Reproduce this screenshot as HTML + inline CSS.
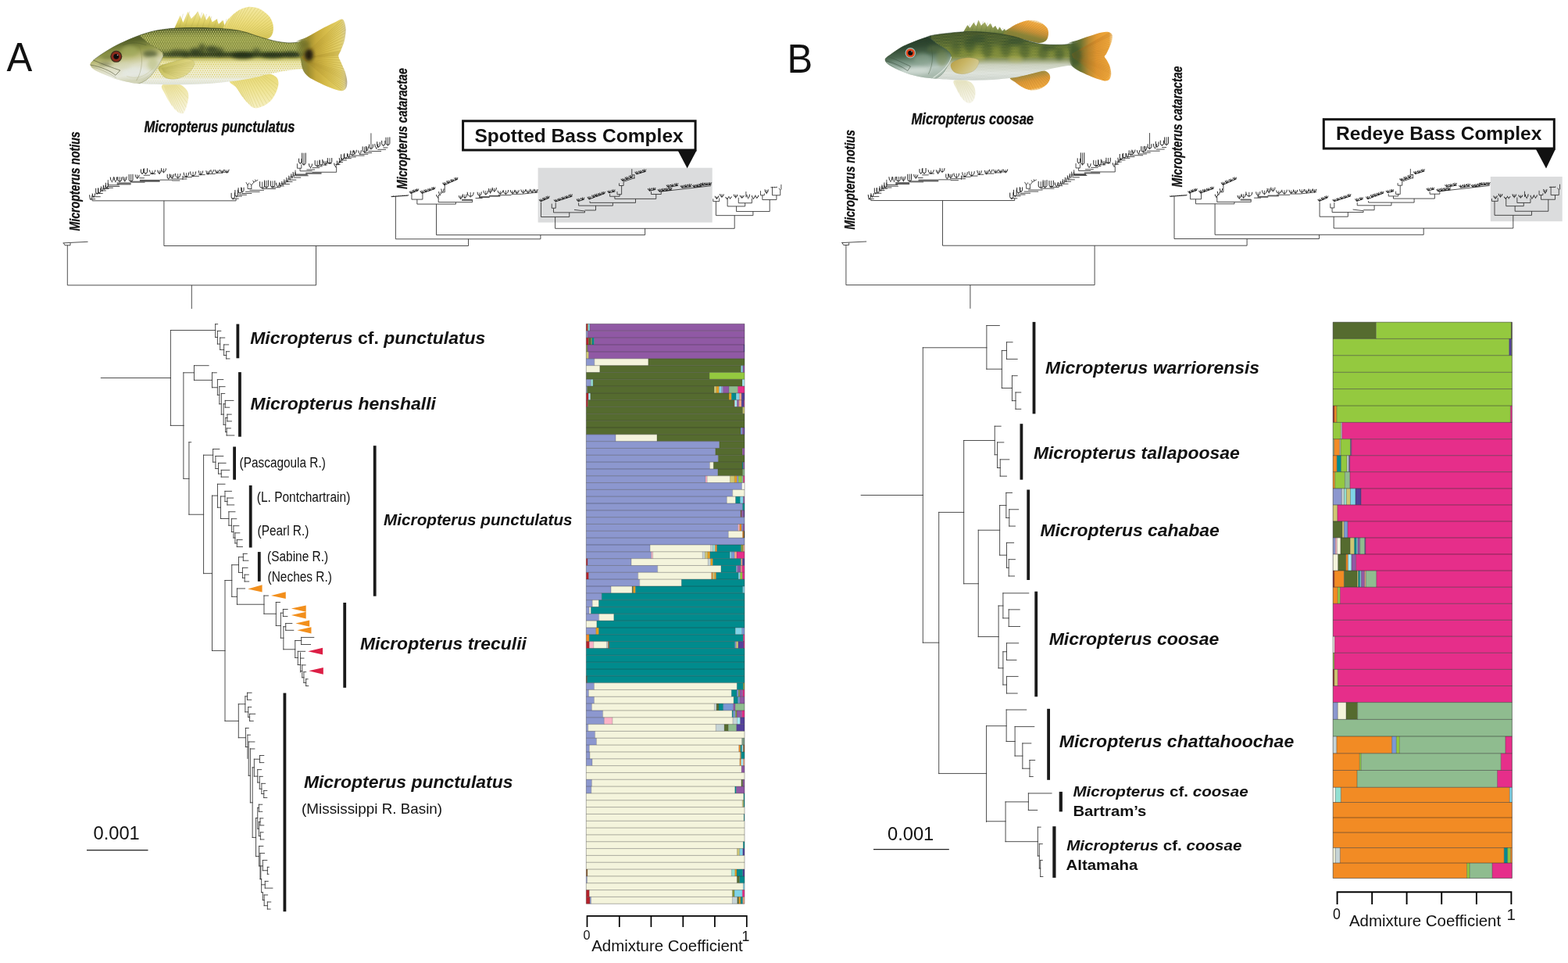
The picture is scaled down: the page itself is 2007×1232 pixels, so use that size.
<!DOCTYPE html>
<html lang="en"><head><meta charset="utf-8"><title>Micropterus phylogeny and admixture</title>
<style>
html,body{margin:0;padding:0;background:#fff;overflow:hidden;}
body{width:2007px;height:1232px;overflow:hidden;}
svg{display:block;font-family:"Liberation Sans",sans-serif;}
</style></head><body>
<svg width="2007" height="1232" viewBox="0 0 2007 1232">
<rect width="2007" height="1232" fill="#fff"/>
<g transform="translate(105 0) scale(0.17439)">
<defs>
<linearGradient id="fabg" x1="0" y1="0" x2="0" y2="1"><stop offset="0" stop-color="#2f3d1a"/><stop offset="0.06" stop-color="#4c5a22"/><stop offset="0.18" stop-color="#707c34"/><stop offset="0.33" stop-color="#808a3c"/><stop offset="0.42" stop-color="#687432"/><stop offset="0.475" stop-color="#3a4820"/><stop offset="0.53" stop-color="#a9ab5e"/><stop offset="0.6" stop-color="#ebe7b4"/><stop offset="0.75" stop-color="#f3f1df"/><stop offset="0.9" stop-color="#eef0ea"/><stop offset="1" stop-color="#dde2de"/></linearGradient>
<linearGradient id="fahd" x1="0" y1="0" x2="0.25" y2="1"><stop offset="0" stop-color="#3a4520"/><stop offset="0.25" stop-color="#5a652c"/><stop offset="0.42" stop-color="#8f9648"/><stop offset="0.55" stop-color="#bdbd7c"/><stop offset="0.7" stop-color="#dcdcc0"/><stop offset="0.88" stop-color="#e6e8dc"/><stop offset="1" stop-color="#d2d4b8"/></linearGradient>
<linearGradient id="fafin1" x1="0" y1="0" x2="0" y2="1"><stop offset="0" stop-color="#f0e7a2"/><stop offset="0.6" stop-color="#dfd165"/><stop offset="1" stop-color="#b9b048"/></linearGradient>
<linearGradient id="fafin2" x1="0" y1="0" x2="0" y2="1"><stop offset="0" stop-color="#f3e9a2"/><stop offset="0.5" stop-color="#ecdc7a"/><stop offset="1" stop-color="#d9c95c"/></linearGradient>
<linearGradient id="faanal" x1="0" y1="0" x2="0" y2="1"><stop offset="0" stop-color="#e6d873"/><stop offset="0.5" stop-color="#f0e596"/><stop offset="1" stop-color="#f6f0c4"/></linearGradient>
<linearGradient id="fatail" x1="0" y1="0" x2="1" y2="0"><stop offset="0" stop-color="#6f7a30" stop-opacity="0"/><stop offset="0.14" stop-color="#7a7a2e" stop-opacity="0.85"/><stop offset="0.26" stop-color="#9c8c2e"/><stop offset="0.4" stop-color="#c4a83a"/><stop offset="0.6" stop-color="#d6bc4a"/><stop offset="0.85" stop-color="#e2cf68"/><stop offset="0.95" stop-color="#dccf8a"/><stop offset="1" stop-color="#b0a898"/></linearGradient>
<linearGradient id="fapelv" x1="0" y1="0" x2="0" y2="1"><stop offset="0" stop-color="#ece29a"/><stop offset="0.5" stop-color="#f3edc0"/><stop offset="1" stop-color="#f8f6e6"/></linearGradient>
<linearGradient id="fapect" x1="0" y1="0" x2="1" y2="0.6"><stop offset="0" stop-color="#9a9a3e"/><stop offset="0.3" stop-color="#c9c262"/><stop offset="0.7" stop-color="#ddd480"/><stop offset="1" stop-color="#e6df98"/></linearGradient>
<pattern id="fasc0" width="17" height="30" patternUnits="userSpaceOnUse">
<ellipse cx="4.25" cy="7.5" rx="5.4" ry="6.0" fill="#e2de88"/>
<ellipse cx="12.75" cy="22.5" rx="5.4" ry="6.0" fill="#e2de88"/>
</pattern>
<pattern id="fasc1" width="17" height="30" patternUnits="userSpaceOnUse">
<ellipse cx="4.25" cy="7.5" rx="4.6" ry="5.4" fill="#d6c84a"/>
<ellipse cx="12.75" cy="22.5" rx="4.6" ry="5.4" fill="#d6c84a"/>
</pattern>
<pattern id="fasc2" width="17" height="30" patternUnits="userSpaceOnUse">
<ellipse cx="4.25" cy="7.5" rx="4.2" ry="4.6" fill="#e0d98c"/>
<ellipse cx="12.75" cy="22.5" rx="4.2" ry="4.6" fill="#e0d98c"/>
</pattern>
<clipPath id="facl"><path d="M60 470C62.5 457 80 445.83 100 430C120 414.17 150 393.33 180 375C210 356.67 243.33 337.83 280 320C316.67 302.17 360 283 400 268C440 253 478.33 239.67 520 230C561.67 220.33 603.33 214.33 650 210C696.67 205.67 750 204.67 800 204C850 203.33 900 204 950 206C1000 208 1058.33 211 1100 216C1141.67 221 1166.67 227 1200 236C1233.33 245 1266.67 259.67 1300 270C1333.33 280.33 1366.67 290.67 1400 298C1433.33 305.33 1470 311.67 1500 314C1530 316.33 1555 314.33 1580 312C1605 309.67 1630 285.33 1650 300C1670 314.67 1696.67 364.17 1700 400C1703.33 435.83 1680 497.5 1670 515C1660 532.5 1660 505.5 1640 505C1620 504.5 1581.67 508.33 1550 512C1518.33 515.67 1483.33 521.17 1450 527C1416.67 532.83 1383.33 539.5 1350 547C1316.67 554.5 1291.67 563.67 1250 572C1208.33 580.33 1150 590.33 1100 597C1050 603.67 1000 608.33 950 612C900 615.67 850 617.5 800 619C750 620.5 700 621.17 650 621C600 620.83 541.67 619.5 500 618C458.33 616.5 428.33 615 400 612C371.67 609 353.83 605 330 600C306.17 595 278.83 588.67 257 582C235.17 575.33 218.17 567.5 199 560C179.83 552.5 161 545.67 142 537C123 528.33 98.67 519.17 85 508C71.33 496.83 57.5 483 60 470Z"/></clipPath>
<filter id="fab1" x="-30%" y="-60%" width="160%" height="220%"><feGaussianBlur stdDeviation="16"/></filter>
<filter id="fab2" x="-40%" y="-40%" width="180%" height="180%"><feGaussianBlur stdDeviation="12"/></filter>
<filter id="fab3" x="-5%" y="-5%" width="110%" height="110%"><feGaussianBlur stdDeviation="2.4"/></filter>
</defs>
<g filter="url(#fab3)">
<path d="M676 212L720 113L742 165L777 84L802 138L852 84L872 138L892 94L912 148L936 113L956 162L990 139L1002 177L1036 149L1046 187L1076 133L1090 215Z" fill="url(#fafin1)"/>
<path d="M1040 215C1026.67 201.67 1058.33 168.33 1070 150C1081.67 131.67 1095 118.33 1110 105C1125 91.67 1140.83 79.17 1160 70C1179.17 60.83 1203 51.67 1225 50C1247 48.33 1272.5 53.33 1292 60C1311.5 66.67 1327 78.33 1342 90C1357 101.67 1372 114.67 1382 130C1392 145.33 1398.67 165 1402 182C1405.33 199 1405.33 217 1402 232C1398.67 247 1394 262 1382 272C1370 282 1352 293.67 1330 292C1308 290.33 1280 272.33 1250 262C1220 251.67 1185 237.83 1150 230C1115 222.17 1053.33 228.33 1040 215Z" fill="url(#fafin2)"/>
<path d="M1085 595C1073.67 606.17 1117.5 624.17 1132 642C1146.5 659.83 1158.67 683.67 1172 702C1185.33 720.33 1197 737 1212 752C1227 767 1243.67 787 1262 792C1280.33 797 1302 790.33 1322 782C1342 773.67 1365.33 758.67 1382 742C1398.67 725.33 1412 703.67 1422 682C1432 660.33 1442 632 1442 612C1442 592 1437.33 574 1422 562C1406.67 550 1387 537.83 1350 540C1313 542.17 1244.17 565.83 1200 575C1155.83 584.17 1096.33 583.83 1085 595Z" fill="url(#faanal)"/>
<path d="M588 625C573 637.83 599.67 669.17 610 692C620.33 714.83 634.67 740.33 650 762C665.33 783.67 686.67 810.33 702 822C717.33 833.67 731.17 838.67 742 832C752.83 825.33 760.33 803.67 767 782C773.67 760.33 782.83 723.67 782 702C781.17 680.33 775.67 666.5 762 652C748.33 637.5 729 619.5 700 615C671 610.5 603 612.17 588 625Z" fill="url(#fapelv)"/>
<path d="M1056.36 216.59L1119.09 98.64M1069.09 219.77L1137.27 85.91M1081.82 222.95L1155.45 73.18M1094.55 226.14L1177.73 64.55M1107.27 229.32L1201.36 57.27M1120 232.5L1225 50M1132.73 235.68L1249.36 53.64M1145.45 238.86L1273.73 57.27M1158.18 242.05L1296.55 62.73M1170.91 245.23L1314.73 73.64M1183.64 248.41L1332.91 84.55M1196.36 251.59L1349.27 97.27M1209.09 254.77L1363.82 111.82M1221.82 257.95L1378.36 126.36M1234.55 261.14L1387.45 144.18M1247.27 264.32L1394.73 163.09M1260 267.5L1402 182M1272.73 270.68L1402 200.18M1285.45 273.86L1402 218.36M1298.18 277.05L1400.18 235.64M1310.91 280.23L1392.91 250.18M1323.64 283.41L1385.64 264.73" stroke="#b5a338" stroke-width="3" stroke-opacity="0.55" fill="none"/>
<path d="M1107.5 593.53L1179.5 711.38M1122.5 590.59L1194.5 730.12M1137.5 587.66L1209.5 748.88M1152.5 584.72L1227.62 764.5M1167.5 581.78L1246.38 779.5M1182.5 578.84L1265.75 791.38M1197.5 575.91L1288.25 787.62M1212.5 572.97L1310.75 783.88M1227.5 570.03L1333.25 774.5M1242.5 567.09L1355.75 759.5M1257.5 564.16L1378.25 744.5M1272.5 561.22L1394.5 723.25M1287.5 558.28L1409.5 700.75M1302.5 555.34L1423.25 677.62M1317.5 552.41L1430.75 651.38M1332.5 549.47L1438.25 625.12" stroke="#bfae44" stroke-width="3" stroke-opacity="0.5" fill="none"/>
<path d="M605 629.44L661.56 775.33M615 628.33L684.67 802M625 627.22L706.44 823.11M635 626.11L724.22 827.56M645 625L742 832M655 623.89L753.11 809.78M665 622.78L764.22 787.56M675 621.67L772 755.33M685 620.56L778.67 719.78" stroke="#c9bb5c" stroke-width="3" stroke-opacity="0.5" fill="none"/>
<path d="M711.11 212L742.17 101.72M753.33 212L789.5 84M795.56 212L847.83 84M837.78 212L880.89 91.22M880 212L914 103.5M922.22 212L951 120.22M964.44 212L992.56 139.56M1006.67 212L1028.33 147.33M1048.89 212L1060.44 139.22" stroke="#a89a3c" stroke-width="3" stroke-opacity="0.5" fill="none"/>
<path d="M60 470C62.5 457 80 445.83 100 430C120 414.17 150 393.33 180 375C210 356.67 243.33 337.83 280 320C316.67 302.17 360 283 400 268C440 253 478.33 239.67 520 230C561.67 220.33 603.33 214.33 650 210C696.67 205.67 750 204.67 800 204C850 203.33 900 204 950 206C1000 208 1058.33 211 1100 216C1141.67 221 1166.67 227 1200 236C1233.33 245 1266.67 259.67 1300 270C1333.33 280.33 1366.67 290.67 1400 298C1433.33 305.33 1470 311.67 1500 314C1530 316.33 1555 314.33 1580 312C1605 309.67 1630 285.33 1650 300C1670 314.67 1696.67 364.17 1700 400C1703.33 435.83 1680 497.5 1670 515C1660 532.5 1660 505.5 1640 505C1620 504.5 1581.67 508.33 1550 512C1518.33 515.67 1483.33 521.17 1450 527C1416.67 532.83 1383.33 539.5 1350 547C1316.67 554.5 1291.67 563.67 1250 572C1208.33 580.33 1150 590.33 1100 597C1050 603.67 1000 608.33 950 612C900 615.67 850 617.5 800 619C750 620.5 700 621.17 650 621C600 620.83 541.67 619.5 500 618C458.33 616.5 428.33 615 400 612C371.67 609 353.83 605 330 600C306.17 595 278.83 588.67 257 582C235.17 575.33 218.17 567.5 199 560C179.83 552.5 161 545.67 142 537C123 528.33 98.67 519.17 85 508C71.33 496.83 57.5 483 60 470Z" fill="url(#fabg)"/>
<g clip-path="url(#facl)">
<ellipse cx="1000" cy="280" rx="600" ry="40" fill="#8f9a40" opacity="0.5" filter="url(#fab1)"/>
<rect x="430" y="200" width="1260" height="215" fill="url(#fasc0)" opacity="0.78"/>
<rect x="430" y="415" width="1260" height="160" fill="url(#fasc1)" opacity="0.85"/>
<rect x="430" y="575" width="1260" height="60" fill="url(#fasc2)" opacity="0.45"/>
<ellipse cx="1130" cy="402" rx="520" ry="14" fill="#1f2a16" opacity="0.8" filter="url(#fab2)"/><ellipse cx="880" cy="360" rx="26" ry="40" fill="#2a381c" opacity="0.6" filter="url(#fab2)"/><ellipse cx="1010" cy="380" rx="30" ry="30" fill="#2a381c" opacity="0.6" filter="url(#fab2)"/><ellipse cx="1280" cy="380" rx="30" ry="26" fill="#2a381c" opacity="0.5" filter="url(#fab2)"/><ellipse cx="760" cy="395" rx="30" ry="26" fill="#2a381c" opacity="0.55" filter="url(#fab2)"/><ellipse cx="620" cy="400" rx="60" ry="16" fill="#2f3d20" opacity="0.5" filter="url(#fab2)"/><ellipse cx="830" cy="380" rx="42" ry="26" fill="#26341c" opacity="0.8" filter="url(#fab2)"/><ellipse cx="950" cy="365" rx="48" ry="26" fill="#26341c" opacity="0.75" filter="url(#fab2)"/><ellipse cx="1180" cy="408" rx="80" ry="24" fill="#1f2a18" opacity="0.8" filter="url(#fab2)"/><ellipse cx="1400" cy="408" rx="80" ry="20" fill="#1f2a18" opacity="0.7" filter="url(#fab2)"/><ellipse cx="700" cy="385" rx="55" ry="20" fill="#2d3b1f" opacity="0.65" filter="url(#fab2)"/><ellipse cx="1530" cy="400" rx="70" ry="18" fill="#1f2a18" opacity="0.7" filter="url(#fab2)"/>
</g>
<path d="M70 462C75 456.67 81.67 444.5 100 430C118.33 415.5 150 393.33 180 375C210 356.67 243.33 337.83 280 320C316.67 302.17 360 283 400 268C440 253 478.33 239.67 520 230C561.67 220.33 603.33 214.33 650 210C696.67 205.67 750 204.67 800 204C850 203.33 900 204 950 206C1000 208 1058.33 211 1100 216C1141.67 221 1166.67 227 1200 236C1233.33 245 1266.67 259.67 1300 270C1333.33 280.33 1366.67 290.67 1400 298C1433.33 305.33 1470 311.67 1500 314C1530 316.33 1566.67 312.33 1580 312" fill="none" stroke="#2c3a18" stroke-width="6" stroke-opacity="0.55" stroke-linecap="round"/>
<path d="M1560 318C1568.33 293.33 1618.33 289 1650 272C1681.67 255 1716.67 233.67 1750 216C1783.33 198.33 1824.17 178.67 1850 166C1875.83 153.33 1892.33 140.67 1905 140C1917.67 139.33 1920.83 148.67 1926 162C1931.17 175.33 1936 197 1936 220C1936 243 1932 275 1926 300C1920 325 1907.33 351.67 1900 370C1892.67 388.33 1881.67 395 1882 410C1882.33 425 1893.67 440 1902 460C1910.33 480 1924.67 506.67 1932 530C1939.33 553.33 1945.33 580 1946 600C1946.67 620 1943.67 639 1936 650C1928.33 661 1919.33 667.33 1900 666C1880.67 664.67 1848.33 652.67 1820 642C1791.67 631.33 1756.67 615.33 1730 602C1703.33 588.67 1678.33 577.33 1660 562C1641.67 546.67 1630 533.67 1620 510C1610 486.33 1610 452 1600 420C1590 388 1551.67 342.67 1560 318Z" fill="url(#fatail)"/>
<path d="M1610.29 420.29L1907.74 147.06M1610.88 420.88L1913.21 161.18M1611.47 421.47L1918.68 175.29M1612.06 422.06L1924.15 189.41M1612.65 422.65L1929.62 203.53M1613.24 423.24L1935.09 217.65M1613.82 423.82L1930.71 242.06M1614.41 424.41L1924.35 268.53M1615 425L1918 295M1615.59 425.59L1911.65 321.47M1616.18 426.18L1905.29 347.94M1616.76 426.76L1899.47 371.18M1617.35 427.35L1896.29 378.24M1617.94 427.94L1893.12 385.29M1618.53 428.53L1889.94 392.35M1619.12 429.12L1886.76 399.41M1619.71 429.71L1883.59 406.47M1620.29 430.29L1886.41 420.59M1620.88 430.88L1895.24 441.76M1621.47 431.47L1904.06 462.94M1622.06 432.06L1912.88 484.12M1622.65 432.65L1921.71 505.29M1623.24 433.24L1930.53 526.47M1623.82 433.82L1934.06 540.29M1624.41 434.41L1936.53 552.65M1625 435L1939 565M1625.59 435.59L1941.47 577.35M1626.18 436.18L1943.94 589.71M1626.76 436.76L1944.65 601.94M1627.35 437.35L1936.53 613.59M1627.94 437.94L1928.41 625.24M1628.53 438.53L1920.29 636.88M1629.12 439.12L1912.18 648.53M1629.71 439.71L1904.06 660.18" stroke="#a08526" stroke-width="3" stroke-opacity="0.5" fill="none"/>
<ellipse cx="1665" cy="402" rx="32" ry="44" fill="#1a1810" opacity="0.92" filter="url(#fab2)"/><ellipse cx="1640" cy="330" rx="30" ry="30" fill="#6a6a28" opacity="0.6" filter="url(#fab2)"/>
<g clip-path="url(#facl)">
<path d="M40 470C44.17 454.67 76.67 437.5 100 420C123.33 402.5 150 383.33 180 365C210 346.67 243.33 327.83 280 310C316.67 292.17 364.67 256.17 400 258C435.33 259.83 463.83 302.83 492 321C520.17 339.17 552 352.33 569 367C586 381.67 598.33 385.83 594 409C589.67 432.17 564.33 475.83 543 506C521.67 536.17 496 570.67 466 590C436 609.33 397.83 621.67 363 622C328.17 622.33 284.33 600.67 257 592C229.67 583.33 218.17 577.5 199 570C179.83 562.5 162.67 556.67 142 547C121.33 537.33 92 524.83 75 512C58 499.17 35.83 485.33 40 470Z" fill="url(#fahd)" stroke="#6b7040" stroke-width="5" stroke-opacity="0.5"/>
<ellipse cx="350" cy="375" rx="60" ry="40" fill="#a3ab5e" opacity="0.75" filter="url(#fab2)"/><ellipse cx="500" cy="395" rx="55" ry="24" fill="#3b4a26" opacity="0.65" filter="url(#fab2)"/><ellipse cx="170" cy="468" rx="50" ry="12" fill="#4a4f30" opacity="0.5" filter="url(#fab2)"/><ellipse cx="380" cy="530" rx="90" ry="40" fill="#e4e8e2" opacity="0.8" filter="url(#fab2)"/><ellipse cx="300" cy="480" rx="60" ry="26" fill="#d4d6b4" opacity="0.6" filter="url(#fab2)"/><ellipse cx="520" cy="470" rx="40" ry="50" fill="#b9bf80" opacity="0.6" filter="url(#fab2)"/><ellipse cx="200" cy="420" rx="60" ry="18" fill="#6a7436" opacity="0.6" filter="url(#fab2)"/>
</g>
<path d="M564 491C574.33 477.33 615.17 469.5 646 460C676.83 450.5 720.83 436.5 749 434C777.17 431.5 803 437.17 815 445C827 452.83 827.83 464.83 821 481C814.17 497.17 794.67 525.83 774 542C753.33 558.17 722.67 572.83 697 578C671.33 583.17 638.83 579 620 573C601.17 567 593.33 555.67 584 542C574.67 528.33 553.67 504.67 564 491Z" fill="url(#fapect)" stroke="#8a8a3c" stroke-width="3" stroke-opacity="0.45"/>
<path d="M581 501.5L815.9 450.4M583 504.5L817.7 461.2M585 507.5L819.5 472M587 510.5L818.65 484.05M589 513.5L804.55 502.35M591 516.5L790.45 520.65M593 519.5L776.35 538.95M595 522.5L754.75 551M597 525.5L731.65 561.8M599 528.5L708.55 572.6" stroke="#8f8a38" stroke-width="2.5" stroke-opacity="0.4" fill="none"/>
<path d="M420 340C450 410 445 520 400 590" fill="none" stroke="#7a7f48" stroke-width="4" stroke-opacity="0.45" stroke-linecap="round"/>
<path d="M62 476C140 490 210 520 246 552L280 516C230 500 150 470 85 442" fill="none" stroke="#55583a" stroke-width="5" stroke-opacity="0.75" stroke-linecap="round"/>
<path d="M70 488C130 505 200 535 250 570" fill="none" stroke="#8a8c6a" stroke-width="4" stroke-opacity="0.5" stroke-linecap="round"/>
<path d="M300 330C380 300 430 320 470 330" fill="none" stroke="#4a5628" stroke-width="5" stroke-opacity="0.5" stroke-linecap="round"/>
<path d="M594 409C570 470 520 540 440 595" fill="none" stroke="#c9ccb0" stroke-width="6" stroke-opacity="0.7" stroke-linecap="round"/>
<path d="M330 560C400 585 470 560 520 500" fill="none" stroke="#b9b98a" stroke-width="4" stroke-opacity="0.5" stroke-linecap="round"/>
<circle cx="251" cy="415" r="43" fill="#3a3020"/>
<circle cx="251" cy="415" r="36" fill="#8a2c1c"/>
<circle cx="251" cy="415" r="19.8" fill="#0d0b0a"/>
<circle cx="261.08" cy="404.2" r="4.68" fill="#fff" opacity="0.75"/>
</g>
</g>
<g transform="translate(1120 10) scale(0.15944)">
<defs>
<linearGradient id="fbbg" x1="0" y1="0" x2="0" y2="1"><stop offset="0" stop-color="#223822"/><stop offset="0.15" stop-color="#324b2b"/><stop offset="0.35" stop-color="#4c6330"/><stop offset="0.5" stop-color="#65773a"/><stop offset="0.58" stop-color="#939e68"/><stop offset="0.68" stop-color="#d3d8c6"/><stop offset="0.85" stop-color="#e9ede8"/><stop offset="1" stop-color="#d5dbd6"/></linearGradient>
<linearGradient id="fbhd" x1="0" y1="0" x2="0.2" y2="1"><stop offset="0" stop-color="#1f3324"/><stop offset="0.3" stop-color="#2f4730"/><stop offset="0.5" stop-color="#4c6850"/><stop offset="0.65" stop-color="#7d9886"/><stop offset="0.82" stop-color="#b9c9c0"/><stop offset="1" stop-color="#a9baae"/></linearGradient>
<linearGradient id="fbfin1" x1="0" y1="0" x2="0" y2="1"><stop offset="0" stop-color="#b4b872"/><stop offset="0.5" stop-color="#8f9a52"/><stop offset="1" stop-color="#5f7538"/></linearGradient>
<linearGradient id="fbfin2" x1="0.1" y1="1" x2="0.6" y2="0"><stop offset="0" stop-color="#6f7a38"/><stop offset="0.42" stop-color="#85863a"/><stop offset="0.6" stop-color="#c2923a"/><stop offset="0.8" stop-color="#e8a23a"/><stop offset="0.95" stop-color="#f0ae48"/><stop offset="1" stop-color="#f6deb0"/></linearGradient>
<linearGradient id="fbanal" x1="0.2" y1="0" x2="0.6" y2="1"><stop offset="0" stop-color="#8a8a44"/><stop offset="0.3" stop-color="#a98f40"/><stop offset="0.55" stop-color="#dc9a38"/><stop offset="0.9" stop-color="#eea83e"/><stop offset="1" stop-color="#f6deb0"/></linearGradient>
<linearGradient id="fbtail" x1="0" y1="0" x2="1" y2="0"><stop offset="0" stop-color="#465e2e" stop-opacity="0"/><stop offset="0.14" stop-color="#4a6030" stop-opacity="0.9"/><stop offset="0.3" stop-color="#6a7230"/><stop offset="0.48" stop-color="#b98a30"/><stop offset="0.65" stop-color="#e39a32"/><stop offset="0.92" stop-color="#efa83c"/><stop offset="1" stop-color="#f6dcae"/></linearGradient>
<linearGradient id="fbpelv" x1="0" y1="0" x2="0" y2="1"><stop offset="0" stop-color="#e9e6c4"/><stop offset="1" stop-color="#f7f6ec"/></linearGradient>
<linearGradient id="fbpect" x1="0" y1="0" x2="1" y2="0.6"><stop offset="0" stop-color="#b39a40"/><stop offset="0.5" stop-color="#c9b666"/><stop offset="1" stop-color="#d6d0a0"/></linearGradient>
<pattern id="fbsc0" width="13" height="24" patternUnits="userSpaceOnUse">
<ellipse cx="3.25" cy="6" rx="4.2" ry="4.8" fill="#d2cc50"/>
<ellipse cx="9.75" cy="18" rx="4.2" ry="4.8" fill="#d2cc50"/>
</pattern>
<pattern id="fbsc1" width="13" height="24" patternUnits="userSpaceOnUse">
<ellipse cx="3.25" cy="6" rx="3.6" ry="4.2" fill="#9aa38e"/>
<ellipse cx="9.75" cy="18" rx="3.6" ry="4.2" fill="#9aa38e"/>
</pattern>
<clipPath id="fbcl"><path d="M80 420C78.5 412 82.67 408.33 90 401C97.33 393.67 111 385.33 124 376C137 366.67 152.33 355.5 168 345C183.67 334.5 199.17 323 218 313C236.83 303 260.17 293.83 281 285C301.83 276.17 322.17 267.83 343 260C363.83 252.17 385 244.83 406 238C427 231.17 428.33 225.83 469 219C509.67 212.17 594.83 201.5 650 197C705.17 192.5 750 191.17 800 192C850 192.83 900 196.17 950 202C1000 207.83 1058.33 217.83 1100 227C1141.67 236.17 1166.67 247.33 1200 257C1233.33 266.67 1266.67 278.5 1300 285C1333.33 291.5 1366.67 294.17 1400 296C1433.33 297.83 1470 297 1500 296C1530 295 1556.67 291 1580 290C1603.33 289 1625 273.33 1640 290C1655 306.67 1671.67 358.33 1670 390C1668.33 421.67 1645 467.5 1630 480C1615 492.5 1601.67 466.33 1580 465C1558.33 463.67 1530 467.5 1500 472C1470 476.5 1433.33 484.5 1400 492C1366.67 499.5 1333.33 508.67 1300 517C1266.67 525.33 1233.33 534.5 1200 542C1166.67 549.5 1141.67 556.17 1100 562C1058.33 567.83 1000 573.67 950 577C900 580.33 850 581.67 800 582C750 582.33 699.67 580.83 650 579C600.33 577.17 537.5 573.33 502 571C466.5 568.67 458.17 567.5 437 565C415.83 562.5 395.83 559.67 375 556C354.17 552.33 332.83 548.33 312 543C291.17 537.67 270.83 531.33 250 524C229.17 516.67 205.83 507.33 187 499C168.17 490.67 151.67 482.33 137 474C122.33 465.67 108.5 458 99 449C89.5 440 81.5 428 80 420Z"/></clipPath>
<filter id="fbb1" x="-30%" y="-60%" width="160%" height="220%"><feGaussianBlur stdDeviation="16"/></filter>
<filter id="fbb2" x="-40%" y="-40%" width="180%" height="180%"><feGaussianBlur stdDeviation="12"/></filter>
<filter id="fbb3" x="-5%" y="-5%" width="110%" height="110%"><feGaussianBlur stdDeviation="2.4"/></filter>
</defs>
<g filter="url(#fbb3)">
<path d="M705 200L742 138L762 162L792 118L812 147L832 98L852 142L882 114L902 152L926 124L946 162L966 144L986 177L1002 154L1022 187L1042 168L1060 220Z" fill="url(#fbfin1)"/>
<path d="M1030 215C1013.33 197.5 1078.33 165.83 1100 150C1121.67 134.17 1138.33 128.33 1160 120C1181.67 111.67 1206.67 102.5 1230 100C1253.33 97.5 1280 100 1300 105C1320 110 1335.67 119.17 1350 130C1364.33 140.83 1379.17 155 1386 170C1392.83 185 1393.5 204.17 1391 220C1388.5 235.83 1384.33 254.67 1371 265C1357.67 275.33 1339.5 283.67 1311 282C1282.5 280.33 1246.83 266.17 1200 255C1153.17 243.83 1046.67 232.5 1030 215Z" fill="url(#fbfin2)"/>
<path d="M1085 560C1073.67 570.33 1114.17 588.33 1132 602C1149.83 615.67 1172 632 1192 642C1212 652 1230.33 660.33 1252 662C1273.67 663.67 1300.33 660.33 1322 652C1343.67 643.67 1368 627 1382 612C1396 597 1404.5 577 1406 562C1407.5 547 1402 531.5 1391 522C1380 512.5 1371.83 502 1340 505C1308.17 508 1242.5 530.83 1200 540C1157.5 549.17 1096.33 549.67 1085 560Z" fill="url(#fbanal)"/>
<path d="M633 585C619.67 597.83 648.5 637.5 660 662C671.5 686.5 686.67 714.67 702 732C717.33 749.33 737 764.33 752 766C767 767.67 783 756 792 742C801 728 806.17 702 806 682C805.83 662 802 638.17 791 622C780 605.83 766.33 591.17 740 585C713.67 578.83 646.33 572.17 633 585Z" fill="url(#fbpelv)"/>
<path d="M1055.91 216.48L1109.55 145.23M1067.73 219.43L1128.64 135.68M1079.55 222.39L1147.73 126.14M1091.36 225.34L1167.95 117.73M1103.18 228.3L1190.23 111.36M1115 231.25L1212.5 105M1126.82 234.2L1234.77 100.34M1138.64 237.16L1257.05 101.93M1150.45 240.11L1279.32 103.52M1162.27 243.07L1301.14 105.57M1174.09 246.02L1317.05 113.52M1185.91 248.98L1332.95 121.48M1197.73 251.93L1348.86 129.43M1209.55 254.89L1360.64 141.82M1221.36 257.84L1372.09 154.55M1233.18 260.8L1383.55 167.27M1245 263.75L1387.25 182.5M1256.82 266.7L1388.84 198.41M1268.64 269.66L1390.43 214.32M1280.45 272.61L1386.91 229.2M1292.27 275.57L1380.55 243.52M1304.09 278.52L1374.18 257.84" stroke="#b06a1c" stroke-width="3" stroke-opacity="0.5" fill="none"/>
<path d="M1107.5 558.38L1141.38 608.25M1122.5 555.12L1160.12 620.75M1137.5 551.88L1178.88 633.25M1152.5 548.62L1197.62 643.88M1167.5 545.38L1216.38 650.12M1182.5 542.12L1235.12 656.38M1197.5 538.88L1254.19 661.69M1212.5 535.62L1276.06 658.56M1227.5 532.38L1297.94 655.44M1242.5 529.12L1319.81 652.31M1257.5 525.88L1338.88 640.75M1272.5 522.62L1357.62 628.25M1287.5 519.38L1376.38 615.75M1302.5 516.12L1387.25 601.06M1317.5 512.88L1394.75 585.44M1332.5 509.62L1402.25 569.81" stroke="#b06a1c" stroke-width="3" stroke-opacity="0.5" fill="none"/>
<path d="M650.31 589.88L670.5 679.5M660.94 589.62L691.5 714.5M671.56 589.38L714.5 740.5M682.19 589.12L739.5 757.5M692.81 588.88L762 760M703.44 588.62L782 748M714.06 588.38L795.5 727M724.69 588.12L802.5 697" stroke="#c9c49a" stroke-width="3" stroke-opacity="0.5" fill="none"/>
<path d="M733.61 205.28L761.44 130.22M770.83 205.83L798.67 114.67M808.06 206.39L829.78 99.11M845.28 206.94L868.11 109.56M882.5 207.5L904 119M919.72 208.06L937.11 129.56M956.94 208.61L968 144.56M994.17 209.17L996 152.33M1031.39 209.72L1026.44 162.56" stroke="#556b38" stroke-width="3" stroke-opacity="0.5" fill="none"/>
<path d="M80 420C78.5 412 82.67 408.33 90 401C97.33 393.67 111 385.33 124 376C137 366.67 152.33 355.5 168 345C183.67 334.5 199.17 323 218 313C236.83 303 260.17 293.83 281 285C301.83 276.17 322.17 267.83 343 260C363.83 252.17 385 244.83 406 238C427 231.17 428.33 225.83 469 219C509.67 212.17 594.83 201.5 650 197C705.17 192.5 750 191.17 800 192C850 192.83 900 196.17 950 202C1000 207.83 1058.33 217.83 1100 227C1141.67 236.17 1166.67 247.33 1200 257C1233.33 266.67 1266.67 278.5 1300 285C1333.33 291.5 1366.67 294.17 1400 296C1433.33 297.83 1470 297 1500 296C1530 295 1556.67 291 1580 290C1603.33 289 1625 273.33 1640 290C1655 306.67 1671.67 358.33 1670 390C1668.33 421.67 1645 467.5 1630 480C1615 492.5 1601.67 466.33 1580 465C1558.33 463.67 1530 467.5 1500 472C1470 476.5 1433.33 484.5 1400 492C1366.67 499.5 1333.33 508.67 1300 517C1266.67 525.33 1233.33 534.5 1200 542C1166.67 549.5 1141.67 556.17 1100 562C1058.33 567.83 1000 573.67 950 577C900 580.33 850 581.67 800 582C750 582.33 699.67 580.83 650 579C600.33 577.17 537.5 573.33 502 571C466.5 568.67 458.17 567.5 437 565C415.83 562.5 395.83 559.67 375 556C354.17 552.33 332.83 548.33 312 543C291.17 537.67 270.83 531.33 250 524C229.17 516.67 205.83 507.33 187 499C168.17 490.67 151.67 482.33 137 474C122.33 465.67 108.5 458 99 449C89.5 440 81.5 428 80 420Z" fill="url(#fbbg)"/>
<g clip-path="url(#fbcl)">
<ellipse cx="1000" cy="350" rx="560" ry="40" fill="#8c9636" opacity="0.3" filter="url(#fbb1)"/><ellipse cx="1000" cy="250" rx="560" ry="40" fill="#2c4428" opacity="0.5" filter="url(#fbb1)"/>
<rect x="450" y="185" width="1200" height="220" fill="url(#fbsc0)" opacity="0.62"/>
<rect x="450" y="405" width="1200" height="190" fill="url(#fbsc1)" opacity="0.5"/>
<ellipse cx="760" cy="300" rx="45" ry="60" fill="#2f4a2c" opacity="0.45" filter="url(#fbb2)"/><ellipse cx="900" cy="340" rx="42" ry="60" fill="#2f4a2c" opacity="0.4" filter="url(#fbb2)"/><ellipse cx="1050" cy="330" rx="42" ry="60" fill="#2f4a2c" opacity="0.4" filter="url(#fbb2)"/><ellipse cx="1200" cy="350" rx="42" ry="55" fill="#2f4a2c" opacity="0.4" filter="url(#fbb2)"/><ellipse cx="1350" cy="360" rx="42" ry="50" fill="#2f4a2c" opacity="0.4" filter="url(#fbb2)"/><ellipse cx="1480" cy="370" rx="38" ry="48" fill="#2f4a2c" opacity="0.45" filter="url(#fbb2)"/><ellipse cx="650" cy="330" rx="40" ry="50" fill="#2f4a2c" opacity="0.35" filter="url(#fbb2)"/><ellipse cx="830" cy="400" rx="50" ry="30" fill="#c9c45a" opacity="0.35" filter="url(#fbb2)"/><ellipse cx="1130" cy="410" rx="60" ry="30" fill="#c9c45a" opacity="0.3" filter="url(#fbb2)"/><ellipse cx="830" cy="250" rx="60" ry="30" fill="#2f4a2e" opacity="0.5" filter="url(#fbb2)"/><ellipse cx="1130" cy="270" rx="70" ry="30" fill="#2f4a2e" opacity="0.5" filter="url(#fbb2)"/><ellipse cx="1400" cy="320" rx="60" ry="24" fill="#2f4a2e" opacity="0.5" filter="url(#fbb2)"/>
</g>
<path d="M84 412C85 410.17 83.33 407 90 401C96.67 395 111 385.33 124 376C137 366.67 152.33 355.5 168 345C183.67 334.5 199.17 323 218 313C236.83 303 260.17 293.83 281 285C301.83 276.17 322.17 267.83 343 260C363.83 252.17 385 244.83 406 238C427 231.17 428.33 225.83 469 219C509.67 212.17 594.83 201.5 650 197C705.17 192.5 750 191.17 800 192C850 192.83 900 196.17 950 202C1000 207.83 1058.33 217.83 1100 227C1141.67 236.17 1166.67 247.33 1200 257C1233.33 266.67 1266.67 278.5 1300 285C1333.33 291.5 1366.67 294.17 1400 296C1433.33 297.83 1473.33 296.67 1500 296C1526.67 295.33 1550 292.67 1560 292" fill="none" stroke="#243a26" stroke-width="6" stroke-opacity="0.55" stroke-linecap="round"/>
<path d="M1540 292C1550 275.67 1590 272.83 1620 262C1650 251.17 1686.67 237.83 1720 227C1753.33 216.17 1793.33 202.17 1820 197C1846.67 191.83 1865.67 191.83 1880 196C1894.33 200.17 1902.67 209.33 1906 222C1909.33 234.67 1904.33 255.33 1900 272C1895.67 288.67 1887.33 305.33 1880 322C1872.67 338.67 1862.33 360.33 1856 372C1849.67 383.67 1841 383.67 1842 392C1843 400.33 1854.67 408.67 1862 422C1869.33 435.33 1880.33 453.67 1886 472C1891.67 490.33 1897 514.67 1896 532C1895 549.33 1889.33 567 1880 576C1870.67 585 1860 588.33 1840 586C1820 583.67 1786.67 571.83 1760 562C1733.33 552.17 1703.33 537.83 1680 527C1656.67 516.17 1638.33 509.83 1620 497C1601.67 484.17 1580 472.83 1570 450C1560 427.17 1565 386.33 1560 360C1555 333.67 1530 308.33 1540 292Z" fill="url(#fbtail)"/>
<path d="M1580.15 370.44L1882.29 198.29M1580.44 371.32L1886.88 202.88M1580.74 372.21L1891.47 207.47M1581.03 373.09L1896.06 212.06M1581.32 373.97L1900.65 216.65M1581.62 374.85L1905.24 221.24M1581.91 375.74L1902.18 236.71M1582.21 376.62L1897.59 254.35M1582.5 377.5L1893 272M1582.79 378.38L1888.41 289.65M1583.09 379.26L1883.82 307.29M1583.38 380.15L1878.88 324.06M1583.68 381.03L1872.18 336.41M1583.97 381.91L1865.47 348.76M1584.26 382.79L1858.76 361.12M1584.56 383.68L1852.06 373.47M1584.85 384.56L1845.35 385.82M1585.15 385.44L1845.88 399.06M1585.44 386.32L1853.65 413.18M1585.74 387.21L1861.41 427.29M1586.03 388.09L1869.18 441.41M1586.32 388.97L1876.94 455.53M1586.62 389.85L1884.71 469.65M1586.91 390.74L1887.47 480.82M1587.21 391.62L1889.24 491.41M1587.5 392.5L1891 502M1587.79 393.38L1892.76 512.59M1588.09 394.26L1894.53 523.18M1588.38 395.15L1894.35 533.59M1588.68 396.03L1884.47 543.12M1588.97 396.91L1874.59 552.65M1589.26 397.79L1864.71 562.18M1589.56 398.68L1854.82 571.71M1589.85 399.56L1844.94 581.24" stroke="#b06a1c" stroke-width="3" stroke-opacity="0.5" fill="none"/>
<ellipse cx="1610" cy="385" rx="45" ry="80" fill="#41582c" opacity="0.7" filter="url(#fbb2)"/>
<g clip-path="url(#fbcl)">
<path d="M60 420C59.17 409.33 79.33 400 90 391C100.67 382 111 375.33 124 366C137 356.67 152.33 345.5 168 335C183.67 324.5 199.17 313 218 303C236.83 293 260.17 283.83 281 275C301.83 266.17 319.83 257.17 343 250C366.17 242.83 393.83 225.33 420 232C446.17 238.67 473.33 272 500 290C526.67 308 561.33 322.5 580 340C598.67 357.5 612 373.33 612 395C612 416.67 593.67 445.83 580 470C566.33 494.17 551.67 521.67 530 540C508.33 558.33 475.83 575.67 450 580C424.17 584.33 398 570.5 375 566C352 561.5 332.83 558.33 312 553C291.17 547.67 270.83 541.33 250 534C229.17 526.67 205.83 517.33 187 509C168.17 500.67 152.33 493 137 484C121.67 475 107.83 465.67 95 455C82.17 444.33 60.83 430.67 60 420Z" fill="url(#fbhd)" stroke="#4a6650" stroke-width="5" stroke-opacity="0.5"/>
<ellipse cx="380" cy="410" rx="70" ry="45" fill="#8fa894" opacity="0.55" filter="url(#fbb2)"/><ellipse cx="330" cy="505" rx="120" ry="26" fill="#d5dfd8" opacity="0.75" filter="url(#fbb2)"/><ellipse cx="190" cy="445" rx="70" ry="16" fill="#7f9a8c" opacity="0.6" filter="url(#fbb2)"/><ellipse cx="540" cy="400" rx="50" ry="70" fill="#7a8a50" opacity="0.5" filter="url(#fbb2)"/><ellipse cx="480" cy="330" rx="60" ry="30" fill="#5a6e3c" opacity="0.5" filter="url(#fbb2)"/>
</g>
<path d="M610 452C618.17 435.33 653.33 419.5 680 411C706.67 402.5 744.83 399.33 770 401C795.17 402.67 822.5 409.33 831 421C839.5 432.67 829.33 456 821 471C812.67 486 801 501 781 511C761 521 726 531 701 531C676 531 646.17 524.17 631 511C615.83 497.83 601.83 468.67 610 452Z" fill="url(#fbpect)" stroke="#9a8a4c" stroke-width="3" stroke-opacity="0.45"/>
<path d="M440 290C470 350 470 450 430 530" fill="none" stroke="#3f5636" stroke-width="5" stroke-opacity="0.5" stroke-linecap="round"/>
<path d="M612 395C600 450 560 500 470 560" fill="none" stroke="#e6ece4" stroke-width="7" stroke-opacity="0.8" stroke-linecap="round"/>
<path d="M86 424C150 440 215 470 262 505L285 470C230 445 160 410 105 392" fill="none" stroke="#3f5444" stroke-width="5" stroke-opacity="0.75" stroke-linecap="round"/>
<path d="M95 440C150 462 210 490 260 520" fill="none" stroke="#c9d6d0" stroke-width="5" stroke-opacity="0.6" stroke-linecap="round"/>
<circle cx="284" cy="362" r="42" fill="#9fc0bc"/>
<circle cx="284" cy="362" r="35" fill="#e2451c"/>
<circle cx="284" cy="362" r="19.25" fill="#0d0b0a"/>
<circle cx="293.8" cy="351.5" r="4.55" fill="#fff" opacity="0.75"/>
</g>
</g>
<rect x="688.6" y="214.7" width="223.1" height="69.9" fill="#dbdcdd"/>
<rect x="1907.8" y="226" width="91.9" height="57.2" fill="#dbdcdd"/>
<rect x="592.6" y="154.8" width="297.5" height="37.2" fill="#fff" stroke="#111" stroke-width="3"/>
<polygon points="867.6,192.5 891.6,192.5 879.6,215.3" fill="#111"/>
<rect x="1694.3" y="152.7" width="295" height="37.3" fill="#fff" stroke="#111" stroke-width="3"/>
<polygon points="1966,191 1990.8,191 1979,215.4" fill="#111"/>
<rect x="302.46" y="414.57" width="3.8" height="43.72" fill="#1a1a1a"/>
<rect x="305.05" y="476.11" width="3.8" height="82.59" fill="#1a1a1a"/>
<rect x="298.2" y="571.5" width="3.8" height="42.2" fill="#1a1a1a"/>
<rect x="318.8" y="621" width="3.8" height="79.5" fill="#1a1a1a"/>
<rect x="329.9" y="706.1" width="3.8" height="37.7" fill="#1a1a1a"/>
<rect x="477.8" y="570.2" width="3.8" height="192.5" fill="#1a1a1a"/>
<rect x="439.3" y="771" width="3.8" height="108.8" fill="#1a1a1a"/>
<rect x="362.5" y="886.6" width="3.8" height="279.6" fill="#1a1a1a"/>
<rect x="1321.6" y="411.9" width="3.8" height="117.5" fill="#1a1a1a"/>
<rect x="1305.5" y="542.2" width="3.8" height="71.5" fill="#1a1a1a"/>
<rect x="1314.3" y="626.5" width="3.8" height="115.5" fill="#1a1a1a"/>
<rect x="1324.3" y="756.7" width="3.8" height="134.6" fill="#1a1a1a"/>
<rect x="1340.2" y="906.8" width="3.8" height="91" fill="#1a1a1a"/>
<rect x="1355.7" y="1012.9" width="4.2" height="25.5" fill="#1a1a1a"/>
<rect x="1347.3" y="1057.2" width="4.2" height="65.7" fill="#1a1a1a"/>
<path d="M111 1087.7H189.5M1118 1086.7H1214.8" stroke="#222" stroke-width="1.3" fill="none"/>
<path d="M750.65 1171.8H956.65M751.5 1171.8V1185.9M792.8 1171.8V1185.9M833.4 1171.8V1185.9M874.3 1171.8V1185.9M914.9 1171.8V1185.9M955.8 1171.8V1185.9" fill="none" stroke="#000" stroke-width="1.7"/>
<path d="M1710.65 1141.2H1935.35M1711.6 1141.2V1156.9M1756.2 1141.2V1156.9M1800.6 1141.2V1156.9M1845.2 1141.2V1156.9M1889.9 1141.2V1156.9M1934.4 1141.2V1156.9" fill="none" stroke="#000" stroke-width="1.9"/>
<polygon points="317.18,753.38 335.55,748.34 335.55,757.4" fill="#f28f1c"/>
<polygon points="346.88,761.93 365.75,757.15 365.75,765.96" fill="#f28f1c"/>
<polygon points="372.79,778.54 391.66,774.51 391.66,782.82" fill="#f28f1c"/>
<polygon points="372.79,787.09 391.66,782.82 391.66,791.62" fill="#f28f1c"/>
<polygon points="378.33,797.41 396.19,793.38 396.19,801.69" fill="#f28f1c"/>
<polygon points="380.34,806.22 398.46,802.19 398.46,810.5" fill="#f28f1c"/>
<polygon points="394.18,833.14 413.05,828.86 413.05,837.42" fill="#dc1e45"/>
<polygon points="395.19,858.37 413.81,854.09 413.81,862.65" fill="#dc1e45"/>
<path d="M218.37 422.54V544.39M234.88 476.8V612.36M241.93 565.77V658.23M248.47 467.7V486.34M260.57 582.21V733.65M271.49 476.8V495.76M271.53 634.12V832.42M272.63 574.54V591.2M275.66 414.65V431.53M275.91 583.53V599.53M278.4 423.42V440.08M278.4 485.57V505.3M278.44 619.32V649.24M279.53 592.41V606.11M280.81 494.67V516.81M281.68 432.08V447.42M282.49 634.99V663.49M283.26 601.4V610.16M283.33 503.44V530.51M286.11 516.44V543.3M286.62 440.95V454.55M287.97 628.42V641.57M287.99 742.54V922.36M288.26 512.42V521.19M288.74 534.53V552.62M289.69 449.72V458.93M290.16 547.9V557M290.93 530.14V538.91M290.93 637.08V645.95M292.9 654.72V672.26M296.41 663.71V680.48M296.74 722.69V763.37M298.93 672.7V688.05M300.91 681.8V694.95M303.32 690.57V699.56M303.44 752.95V773.23M305.3 900.77V943.74M305.51 712.71V732.44M310.44 726.41V739.35M311.32 708.44V717.2M313.18 735.18V743.95M313.85 890.9V910.85M314.39 931.46V955.58M316.59 886.3V895.29M316.92 940.23V970.35M317.68 904.61V917.43M318.23 949V992.27M319.55 913.38V922.36M320.42 957.74V1026.8M323.16 981.86V1071.41M325.36 971.22V993.15M327.55 1046.53V1095.63M329.74 984.6V1001.04M329.74 1033.38V1060.23M331.39 1029.21V1038.31M331.39 1051.46V1069.55M331.6 1082.47V1107.9M332.26 993.37V1009.26M332.48 966.51V975.61M333.03 1046.86V1055.85M333.03 1091.57V1124.67M333.36 1064.84V1073.93M333.8 1107.9V1124.67M334.67 1124.67V1141.66M334.89 1002.35V1015.51M336.32 1100.56V1113.71M336.32 1141.66V1151.53M337.74 1011.45V1020.55M337.97 762.05V785.29M338.18 1144.95V1158.65M339.28 1127.41V1136.18M342.35 1109.33V1118.32M342.35 1153.94V1163.04M353.32 770.49V800.42M359.35 784.19V816.2M362.42 779.48V788.58M362.86 801.73V830.78M365.71 797.57V806.34M377.76 819.49V841.41M381.27 833.3V850.51M384.55 835V860.05M385.66 815.43V824.53M386.74 850.84V866.79M388.93 859.66V873.37M391.67 868.76V877.53M1181.31 444.79V822.18M1201.71 655.42V989.59M1233.67 563.5V746.74M1252.24 678.25V814.57M1262.56 928.72V1051.38M1262.89 416.48V472.18M1273.24 545.24V581.76M1276.59 565.93V598.5M1278.11 775V854.75M1279.63 646.59V710.21M1280.24 587.85V609.16M1282.37 448.44V496.53M1283.89 758.87V790.83M1283.89 833.75V876.06M1287.07 1025.87V1076.7M1287.85 630.46V662.42M1288.15 908.02V948.5M1288.46 437.79V459.4M1288.46 694.38V726.34M1288.46 822.79V844.4M1288.46 865.41V887.02M1291.2 715.69V737M1291.2 779.87V801.49M1291.81 651.77V673.08M1295.46 480.71V512.67M1299.11 929.63V967.07M1300.02 502.01V523.32M1308.85 950.94V983.2M1316.37 1014.91V1036.44M1317.98 972.55V993.55M1328.33 1058.16V1095.03M1330.32 1079.69V1110.98M1331.71 1100.61V1121.54M275.66 414.65H278.61M1262.89 416.48H1279.33M218.44 422.54H275.66M278.4 423.42H282.78M275.66 431.53H278.4M281.68 432.08H287.71M1288.46 437.79H1296.07M278.4 440.08H281.68M286.62 440.95H292.65M1181.31 444.79H1262.89M281.68 447.42H286.62M1282.37 448.44H1288.46M289.69 449.72H293.74M286.62 454.55H289.69M289.69 458.93H293.96M1288.46 459.4H1302.16M248.47 467.7H267.11M1262.89 472.18H1282.37M234.88 476.8H248.47M271.49 476.8H277.3M1295.46 480.71H1302.16M129.32 483.49H218.44M278.4 485.57H285.74M248.47 486.34H271.49M280.81 494.67H288.04M271.49 495.76H278.4M1282.37 496.53H1295.46M1300.02 502.01H1306.72M283.33 503.44H287.71M278.4 505.3H280.81M288.26 512.42H298.89M1295.46 512.67H1300.02M280.81 516.81H283.33M286.4 516.81H288.26M288.26 521.19H293.74M1300.02 523.32H1306.72M283.26 530.14H286.4M290.93 530.14H296.19M288.74 534.53H290.93M290.93 538.91H296.41M286.11 543.3H288.74M218.37 544.39H235.14M1273.24 545.24H1281.15M290.16 547.9H295.32M288.74 552.62H290.16M290.16 557H299.81M1233.67 563.5H1273.24M241.93 565.77H244.67M1276.59 565.93H1284.81M272.63 574.54H280.85M1273.24 581.76H1276.59M260.57 582.21H272.63M275.91 583.53H285.78M1280.24 587.85H1291.81M272.63 591.2H275.91M279.53 592.41H289.07M1276.59 598.5H1280.24M275.91 599.53H279.53M283.26 601.4H293.78M279.53 606.11H283.26M1280.24 609.16H1288.46M283.26 610.16H292.36M235.14 612.36H241.93M278.44 619.32H287.97M287.97 628.42H296.41M1287.85 630.46H1295.46M1102.18 633.51H1181.31M271.53 634.12H278.44M282.49 634.99H287.97M290.93 637.08H298.6M287.97 641.57H290.93M290.93 645.95H299.7M1279.63 646.59H1287.85M278.44 649.24H282.49M1291.81 651.77H1303.68M292.9 654.72H300.91M1201.71 655.42H1233.67M241.93 658.23H260.57M1287.85 662.42H1291.81M282.49 663.49H292.9M296.41 663.71H302.77M292.9 672.26H296.41M298.93 672.7H305.84M1291.81 673.08H1299.42M1252.24 678.25H1279.63M296.41 680.48H298.93M300.91 681.8H306.83M298.93 688.05H300.91M303.32 690.57H310.11M1288.46 694.38H1297.59M300.91 694.95H303.32M303.32 699.56H310.44M311.32 708.44H316.25M1279.63 710.21H1288.46M305.51 712.71H311.32M1291.2 715.69H1299.42M311.32 717.2H317.9M296.74 722.69H305.51M1288.46 726.34H1291.2M310.44 726.41H317.02M305.51 732.44H310.44M260.57 733.65H271.53M313.18 735.18H318.34M1291.2 737H1298.5M310.44 739.35H313.18M287.99 742.54H296.76M313.18 743.95H318.66M1233.67 746.74H1252.24M303.44 752.95H313.53M1283.89 758.87H1316.77M337.97 762.05H343.45M296.76 763.37H303.44M353.32 770.49H358.47M303.44 773.23H337.97M1278.11 775H1283.89M362.42 779.48H368.12M1291.2 779.87H1305.2M359.35 784.19H362.42M337.97 785.29H353.32M362.42 788.58H367.9M1283.89 790.83H1291.2M365.71 797.57H373.82M353.32 800.42H359.35M1291.2 801.49H1305.5M362.86 801.73H365.71M365.71 806.34H375.79M1252.24 814.57H1278.11M385.66 815.43H401.77M359.35 816.2H362.86M377.76 819.49H385.66M1181.31 822.18H1201.71M1288.46 822.79H1303.68M385.66 824.53H397.49M362.86 830.78H377.76M271.54 832.42H287.99M381.27 833.3H390.59M1283.89 833.75H1288.46M377.76 841.41H381.27M384.55 842.07H388.94M1288.46 844.4H1300.94M381.27 850.51H384.78M386.74 850.84H391.13M1278.11 854.75H1283.89M384.55 858.57H386.74M388.93 859.66H391.67M1288.46 865.41H1303.07M386.74 866.79H388.93M391.67 868.76H394.09M388.93 873.37H391.67M1283.89 876.06H1288.46M391.67 877.53H394.74M316.59 886.3H322.07M1288.46 887.02H1302.16M313.85 890.9H316.59M316.59 895.29H321.74M305.3 900.77H313.85M317.68 904.61H321.74M1288.15 908.02H1313.72M313.85 910.85H317.68M319.55 913.38H326.67M317.68 917.43H319.55M288.09 922.36H305.3M319.55 922.36H324.26M1262.59 928.72H1288.15M1299.11 929.63H1323.77M314.39 931.46H318.23M316.92 940.23H320.42M305.3 943.74H314.39M1288.15 948.5H1299.11M318.23 949H325.9M1308.85 950.94H1319.81M314.39 955.58H316.92M320.42 957.99H325.9M332.48 966.51H337.74M1299.11 967.07H1308.85M325.36 971.22H332.48M1317.98 972.55H1324.68M332.48 975.61H337.74M323.16 981.86H325.36M1308.85 983.2H1317.98M329.74 984.6H334.67M1201.71 989.59H1262.59M318.23 992.27H320.42M325.36 993.15H329.74M332.26 993.37H336.32M1317.98 993.55H1322.24M329.74 1001.04H332.26M334.89 1002.35H339.61M332.26 1009.26H334.89M337.74 1011.45H341.8M1316.37 1014.91H1346.06M334.89 1015.51H337.74M337.74 1020.55H341.8M1287.07 1025.87H1316.37M320.42 1026.8H323.16M331.39 1029.21H335.77M329.74 1033.38H331.39M1316.37 1036.44H1327.73M331.39 1038.31H335.77M327.55 1046.53H329.74M333.03 1046.86H336.87M1262.56 1050.79H1287.07M331.39 1051.46H333.03M333.03 1055.85H337.74M1328.33 1058.16H1332.11M329.74 1060.23H331.39M333.36 1064.84H337.09M331.39 1069.55H333.36M323.16 1071.4H327.55M333.36 1073.93H337.96M1287.07 1076.7H1328.33M1330.32 1079.69H1334.3M331.6 1082.47H336.87M333.03 1091.57H338.51M1328.33 1095.03H1330.32M327.55 1095.63H331.6M336.32 1100.56H341.8M1331.71 1100.61H1334.3M331.6 1107.9H336.32M342.35 1109.33H344.32M1330.32 1110.98H1331.71M336.32 1113.71H342.35M342.35 1118.32H343.99M1331.71 1121.54H1334.9M333.03 1124.67H334.67M339.28 1127.41H343.22M334.67 1131.8H339.28M339.28 1136.18H348.92M334.67 1141.66H336.32M338.18 1144.95H342.57M336.32 1151.53H338.18M342.35 1153.94H346.73M338.18 1158.65H342.35M342.35 1163.04H346.18" fill="none" stroke="#2e2e2e" stroke-width="0.85" stroke-linecap="square"/>
<path d="M86.3 313.8V364.9M90 311V313.8M116.38 254.69V256.09M118.18 254.69V256.84M119.97 251.7V253.1M124.22 247.51V248.91M127.2 246.55V247.95M130.79 243.92V245.32M133.78 241.53V242.93M136.77 239.74V241.14M138.27 230.17V236.75M143.35 231.97V233.37M147.83 231.97V233.37M153.21 226.27V233.37M159.79 226.63V232.77M167.56 222.88V233.37M175.7 223.59V229.06M182.03 221.8V223.2M186.4 221.8V223.2M195.07 218.39V223.2M204.04 218.22V223.2M209.42 215.68V221.41M209.9 256.9V314.5M215.7 228.38V229.78M220.18 223.34V229.18M227.65 222.3V228.58M233.93 224.79V230.17M238.42 221.22V227.39M245.3 364.9V395.1M247.09 219.82V226.19M256.95 218.9V224.4M266.22 218.82V223.8M271.6 220.61V222.01M277.88 217.73V222.01M284.16 217.9V221.77M290.43 217.51V221.77M298.21 254.09V255.49M302.09 254.09V256.84M302.69 251.1V252.5M307.17 246.91V248.31M310.34 245.12V246.52M317.04 236.75V241.53M321.82 236.75V241.53M335.61 232.58V241.74M340.99 230.96V241.14M349.06 231.43V240.54M355.64 238.54V239.94M359.04 237.94V239.34M362.03 236.15V237.55M365.02 234.36V235.76M368.01 231.97V233.37M371 229.57V230.97M373.99 227.18V228.58M376.56 224.79V226.19M378.06 217.62V224.79M380.45 209.25V215.22M384.04 215.22V218.81M384.28 208.65V210.05M385.83 210.44V215.22M388.94 195.73V211.84M397.49 214.03V215.43M404.5 314.5V364.9M406.16 205.53V213.63M410.94 211.04V212.44M416.32 206.24V211.84M422 202.28V210.05M429.48 212.83V214.23M430.67 212.83V220.25M432.94 209.84V211.24M435.75 206.85V208.25M438.45 203.86V205.26M442.63 202.07V203.47M446.52 200.87V202.27M451 193.12V199.88M454.29 196.09V197.49M460.57 196.69V198.09M466.55 187.72V195.7M469.84 192.5V193.9M474.92 170.38V191.51M481.79 189.51V190.91M484.48 187.72V189.12M490.76 185.93V187.33M496.44 175.64V186.73M506.4 251.5V305.8M526.95 246.84V255.1M533.86 255.1V261.1M540.91 246.84V255.1M558.5 261.1V300.6M560.28 252.18V253.58M561.19 252.09V258.85M563.26 248.94V250.34M566.43 245.45V246.85M569.28 235.34V245.96M583.41 258.85V261.1M589.69 250.51V255.27M595.06 248.68V254.23M599.5 305.8V314.5M602.19 246.02V252.55M604.65 255.42V258.66M613.72 246.57V251.64M621.81 244.06V249.7M627.64 241.39V247.75M632.76 240.76V245.81M640.27 244.45V249.05M647.4 243.57V249.05M656.14 243.85V248.4M661.65 243.86V248.4M669.75 242.82V247.75M675.9 243.36V247.75M681.08 242.58V247.11M685.94 242.54V247.11M691.9 300.6V305.8M692.5 258.75V277.5M706.25 260.62V266.25M708.5 266.25V271.88M710.6 277.5V292.3M711.25 259.38V266.25M728.75 271.88V277.5M740.62 259.38V263.12M748.5 270V271.88M755 257.5V259.38M762.5 263.12V269M780.62 248.12V251.25M784.38 259.38V263.12M786.88 251.25V254.38M790 245V248.75M792.5 234.38V237.5M793.12 248.12V251.25M795.62 237.5V248.75M798.12 232.5V237.5M808.75 216.25V223.75M811.88 223.75V228.75M813.5 254.38V259.38M825.6 292.3V300.6M833.5 245V248.5M839.75 248.5V254.38M846.25 245V248.5M912.82 254.34V257.65M916.43 257.65V275.67M917.48 251.57V255.14M920.63 253.44V257.65M923.94 248.34V253.04M930.54 253.86V255.26M931.14 254.04V263.95M934.57 253.44V254.84M940.2 275.7V292.3M941.63 249.08V253.64M942.56 263.95V270.56M945.26 252.84V259.75M949.73 250.01V254M953.67 259.75V263.95M954.87 245.03V252.24M957.63 253.14V254.54M962.38 254.04V259.75M963.88 270.56V275.67M964.33 253.74V255.14M968.84 252.84V254.24M973.49 244.13V249.84M975.89 249.84V255.54M978.3 247.44V249.84M981.18 243.18V248.23M985.2 255.54V270.56M988.51 238.91V249.84M991.51 238.91V239.75M993.91 249.84V255.54M994.21 238.73V239.75M998.72 242.63V249.84M999.92 236.02V242.63M1082.9 313.5V364.6M1086.6 310.7V313.5M1112.98 254.39V255.79M1114.78 254.39V256.54M1116.57 251.4V252.8M1120.82 247.21V248.61M1123.8 246.25V247.65M1127.39 243.62V245.02M1130.38 241.23V242.63M1133.37 239.44V240.84M1134.87 229.87V236.45M1139.95 231.67V233.07M1144.43 231.67V233.07M1149.81 225.97V233.07M1156.39 226.33V232.47M1164.16 222.58V233.07M1172.3 223.29V228.76M1178.63 221.5V222.9M1183 221.5V222.9M1191.67 218.09V222.9M1200.64 217.92V222.9M1206.02 215.38V221.11M1206.5 256.6V314.2M1212.3 228.08V229.48M1216.78 223.04V228.88M1224.25 222V228.28M1230.53 224.49V229.87M1235.02 220.92V227.09M1241.9 364.6V394.8M1243.69 219.52V225.89M1253.55 218.6V224.1M1262.82 218.52V223.5M1268.2 220.31V221.71M1274.48 217.43V221.71M1280.76 217.6V221.47M1287.03 217.21V221.47M1294.81 253.79V255.19M1298.69 253.79V256.54M1299.29 250.8V252.2M1303.77 246.61V248.01M1306.94 244.82V246.22M1313.64 236.45V241.23M1318.42 236.45V241.23M1332.21 232.28V241.44M1337.59 230.66V240.84M1345.66 231.13V240.24M1352.24 238.24V239.64M1355.64 237.64V239.04M1358.63 235.85V237.25M1361.62 234.06V235.46M1364.61 231.67V233.07M1367.6 229.27V230.67M1370.59 226.88V228.28M1373.16 224.49V225.89M1374.66 217.32V224.49M1377.05 208.95V214.92M1380.64 214.92V218.51M1380.88 208.35V209.75M1382.43 210.14V214.92M1385.54 195.43V211.54M1394.09 213.73V215.13M1401.1 314.2V364.6M1402.76 205.23V213.33M1407.54 210.74V212.14M1412.92 205.94V211.54M1418.6 201.98V209.75M1426.08 212.53V213.93M1427.27 212.53V219.95M1429.54 209.54V210.94M1432.35 206.55V207.95M1435.05 203.56V204.96M1439.23 201.77V203.17M1443.12 200.57V201.97M1447.6 192.82V199.58M1450.89 195.79V197.19M1457.17 196.39V197.79M1463.15 187.42V195.4M1466.44 192.2V193.6M1471.52 170.08V191.21M1478.39 189.21V190.61M1481.08 187.42V188.82M1487.36 185.63V187.03M1493.04 175.34V186.43M1503 251.2V305.5M1523.55 246.54V254.8M1530.46 254.8V260.8M1537.51 246.54V254.8M1555.1 260.8V300.3M1556.88 251.88V253.28M1557.79 251.79V258.55M1559.86 248.64V250.04M1563.03 245.15V246.55M1565.88 235.04V245.66M1580.01 258.55V260.8M1586.29 250.21V254.97M1591.66 248.38V253.93M1596.1 305.5V314.2M1598.79 245.72V252.25M1601.25 255.12V258.36M1610.32 246.27V251.34M1618.41 243.76V249.4M1624.24 241.09V247.45M1629.36 240.46V245.51M1636.87 244.15V248.75M1644 243.27V248.75M1652.74 243.55V248.1M1658.25 243.56V248.1M1666.35 242.52V247.45M1672.5 243.06V247.45M1677.68 242.28V246.81M1682.54 242.24V246.81M1688.5 300.3V305.5M1689.1 258.45V277.2M1702.85 260.32V265.95M1705.1 265.95V271.57M1707.2 277.2V292M1707.85 259.07V265.95M1725.35 271.57V277.2M1737.22 259.07V262.82M1745.1 269.7V271.57M1751.6 257.2V259.07M1759.1 262.82V268.7M1777.22 247.82V250.95M1780.97 259.07V262.82M1783.47 250.95V254.07M1786.6 244.7V248.45M1789.1 234.07V237.2M1789.72 247.82V250.95M1792.22 237.2V248.45M1794.72 232.2V237.2M1805.35 215.95V223.45M1808.47 223.45V228.45M1810.1 254.07V259.07M1822.2 292V300.3M1830.1 244.7V248.2M1836.35 248.2V254.07M1842.85 244.7V248.2M1909.42 254.04V257.35M1913.03 257.35V275.37M1914.08 251.27V254.84M1917.23 253.14V257.35M1920.54 248.04V252.74M1927.14 253.56V254.96M1927.74 253.74V263.65M1931.17 253.14V254.54M1936.8 275.4V292M1938.23 248.78V253.34M1939.16 263.65V270.26M1941.86 252.54V259.45M1946.33 249.71V253.7M1950.27 259.45V263.65M1951.47 244.73V251.94M1954.23 252.84V254.24M1958.98 253.74V259.45M1960.48 270.26V275.37M1960.93 253.44V254.84M1965.44 252.54V253.94M1970.09 243.83V249.54M1972.49 249.54V255.24M1974.9 247.14V249.54M1977.78 242.88V247.93M1981.8 255.24V270.26M1985.11 238.61V249.54M1988.11 238.61V239.45M1990.51 249.54V255.24M1990.81 238.43V239.45M1995.32 242.33V249.54M1996.52 235.72V242.33M1487.06 188.62H1493.04M490.46 188.92H496.44M1479.89 191.01H1490.65M483.29 191.31H494.05M1467.93 193.16H1484.67M471.33 193.46H488.07M1463.15 195.19H1472.71M466.55 195.49H476.11M1457.17 196.99H1467.93M460.57 197.29H471.33M1448.8 198.78H1463.15M452.2 199.08H466.55M1441.62 200.57H1452.38M445.02 200.87H455.78M1435.64 202.37H1446.41M439.04 202.67H449.81M1432.06 204.76H1440.43M435.46 205.06H443.83M1429.66 207.15H1435.64M433.06 207.45H439.04M1414.12 208.71H1421.29M417.52 209.01H424.69M1426.08 210.14H1432.06M429.48 210.44H435.46M1408.14 210.74H1415.31M411.54 211.04H418.71M1402.16 212.53H1409.34M405.56 212.83H412.74M1396.18 214.33H1405.75M399.58 214.63H409.15M1377.05 214.92H1382.43M380.45 215.22H385.83M1389.01 216.72H1399.77M392.41 217.02H403.17M1380.64 218.51H1396.18M384.04 218.81H399.58M1280.76 219.95H1289.13M1396.18 219.95H1427.27M284.16 220.25H292.53M399.58 220.25H430.67M1272.38 220.9H1281.95M1387.81 220.9H1408.14M275.78 221.2H285.35M391.21 221.2H411.54M1387.81 221.86H1408.14M1188.68 222.1H1195.85M1260.43 222.1H1272.38M391.21 222.16H411.54M192.08 222.4H199.25M263.83 222.4H275.78M1374.66 222.7H1390.2M378.06 223H393.6M1250.86 223.29H1259.23M1805.35 223.45H1809.1M1374.66 223.53H1390.2M254.26 223.59H262.63M808.75 223.75H812.5M378.06 223.83H393.6M1180.31 223.89H1188.68M183.71 224.19H192.08M1374.66 224.49H1391.4M378.06 224.79H394.8M1241.89 225.09H1251.46M245.29 225.39H254.86M1230.53 226.28H1242.49M233.93 226.58H245.89M1372.27 226.88H1381.83M375.67 227.18H385.23M1174.93 227.48H1181.5M178.33 227.78H184.9M1217.38 228.68H1235.91M220.78 228.98H239.31M1201.23 229.87H1217.38M1367.48 229.87H1375.85M1175.52 230.11H1201.23M204.63 230.17H220.78M370.88 230.17H379.25M178.92 230.41H204.63M1216.78 230.71H1226.94M220.18 231.01H230.34M1175.52 231.07H1201.23M178.92 231.37H204.63M1164.76 231.9H1201.23M168.16 232.2H204.63M1362.7 232.26H1371.07M366.1 232.56H374.47M1164.76 232.86H1182.1M168.16 233.16H185.5M1146.23 233.7H1164.16M149.63 234H167.56M1146.23 234.66H1164.16M149.63 234.96H167.56M1357.92 235.25H1367.48M361.32 235.55H370.88M1146.23 235.61H1164.16M149.63 235.91H167.56M1134.87 236.45H1149.22M138.27 236.75H152.62M1789.1 237.2H1794.72M792.5 237.5H798.12M1353.13 237.64H1360.31M356.53 237.94H363.71M1133.67 238.24H1149.81M137.07 238.54H153.21M1343.57 239.44H1355.52M1983 239.45H1991.11M346.97 239.74H358.92M986.4 239.75H994.51M1131.88 240.04H1141.44M135.28 240.34H144.84M1128.29 241.23H1136.06M1313.64 241.23H1319.02M1332.8 241.23H1349.54M131.69 241.53H139.46M317.04 241.53H322.42M336.2 241.53H352.94M1316.03 243.03H1334.57M319.43 243.33H337.97M1125.3 243.62H1132.47M128.7 243.92H135.87M1310.65 245.06H1329.19M314.05 245.36H332.59M1563.03 245.66H1565.88M566.43 245.96H569.28M1119.32 247.21H1128.29M1305.87 247.21H1319.02M122.72 247.51H131.69M309.27 247.51H322.42M1651.12 248H1664.08M1830.1 248.2H1842.85M654.52 248.3H667.48M1786.6 248.45H1792.22M833.5 248.5H846.25M790 248.75H795.62M1302.28 249H1312.44M1634.28 249.29H1651.12M305.68 249.3H315.84M1970.09 249.54H1974.9M1985.11 249.54H1995.32M637.68 249.59H654.52M973.49 249.84H978.3M988.51 249.84H998.72M1622.62 250.07H1636.87M626.02 250.37H640.27M1298.69 250.8H1306.47M1622.62 250.85H1636.87M1777.22 250.95H1789.72M302.09 251.1H309.87M626.02 251.15H640.27M780.62 251.25H793.12M1609.67 251.36H1623.27M1114.54 251.4H1125.3M613.07 251.66H626.67M117.94 251.7H128.7M1609.67 252.27H1623.27M613.07 252.57H626.67M1605.14 253.18H1614.2M608.54 253.48H617.6M1293.91 253.79H1302.28M1783.47 254.07H1836.35M297.31 254.09H305.68M786.88 254.38H839.75M1111.19 254.39H1118.72M114.59 254.69H122.12M1523.55 254.8H1537.51M526.95 255.1H540.91M1587.65 255.12H1601.25M1972.49 255.24H1990.51M591.05 255.42H604.65M975.89 255.54H993.91M1587.65 256.03H1601.25M591.05 256.33H604.65M1114.78 256.54H1298.69M118.18 256.84H302.09M1909.42 257.35H1917.23M912.82 257.65H920.63M1557.79 258.36H1601.33M561.19 258.66H604.73M1751.6 259.07H1810.1M755 259.38H813.5M1941.86 259.45H1958.98M945.26 259.75H962.38M1530.46 260.8H1580.01M533.86 261.1H583.41M1737.22 262.82H1780.97M740.62 263.12H784.38M1927.74 263.65H1950.27M931.14 263.95H953.67M1702.85 265.95H1707.85M706.25 266.25H711.25M1745.1 268.7H1759.1M748.5 269H762.5M1939.16 270.26H1981.8M942.56 270.56H985.2M1705.1 271.57H1745.1M708.5 271.88H748.5M1913.03 275.37H1960.48M916.43 275.67H963.88M1689.1 277.2H1725.35M692.5 277.5H728.75M1707.2 292H1936.8M710.6 292.3H940.2M1555.1 300.3H1822.2M558.5 300.6H825.6M1503 305.5H1688.5M506.4 305.8H691.9M1079.6 313.5H1086.6M83 313.8H90M1206.5 314.2H1596.1M209.9 314.5H599.5M1082.9 364.6H1401.1M86.3 364.9H404.5M80.5 310.9L112.5 309.3M81.5 311L83 313.8M317.04 236.99L314.89 233.16M317.04 236.99L319.07 233.76M321.82 236.99L320.03 234.96M321.82 236.99L324.81 233.16M324.81 233.16L330.19 230.17M324.81 233.16L323.62 230.77M327.2 231.73L326.61 229.57M667.48 248.3L688.47 245.96M735 268.38L748.5 270M798.12 232.5L812.5 227.5M846.25 245L910 237.75M996.92 240.83L998.84 243.11M1077.1 310.6L1109.1 309M1078.1 310.7L1079.6 313.5M1313.64 236.69L1311.49 232.86M1313.64 236.69L1315.67 233.46M1318.42 236.69L1316.63 234.66M1318.42 236.69L1321.41 232.86M1321.41 232.86L1326.79 229.87M1321.41 232.86L1320.22 230.47M1323.8 231.43L1323.21 229.27M1664.08 248L1685.07 245.66M1731.6 268.07L1745.1 269.7M1794.72 232.2L1809.1 227.2M1842.85 244.7L1906.6 237.45M1993.52 240.53L1995.44 242.81" fill="none" stroke="#2e2e2e" stroke-width="0.85" stroke-linecap="butt"/>
<path d="M114.59 249.3Q114.79 254.69 116.38 254.69Q117.98 254.69 118.18 249.26M118.18 247.51Q118.38 251.7 119.97 251.7Q121.56 251.7 121.76 247.33M122.72 240.79V246.02Q122.72 247.51 124.22 247.51Q125.71 247.51 125.71 246.02V240.39M125.71 240.95V245.06Q125.71 246.55 127.2 246.55Q128.7 246.55 128.7 245.06V240.83M129.3 238.54Q129.5 243.92 130.79 243.92Q132.09 243.92 132.29 238.29M132.29 236.75Q132.49 241.53 133.78 241.53Q135.08 241.53 135.28 236.85M135.28 233.79V238.24Q135.28 239.74 136.77 239.74Q138.27 239.74 138.27 238.24V234.06M141.26 226.58Q141.46 231.97 143.35 231.97Q145.24 231.97 145.44 226.34M146.04 226.58Q146.24 231.97 147.83 231.97Q149.43 231.97 149.63 226.36M150.82 226.28V229.97Q150.82 231.97 153.21 231.97Q155.61 231.97 155.61 229.97V226.57M157.4 225.99Q157.6 231.37 159.79 231.37Q161.98 231.37 162.18 225.87M165.17 223.06V229.97Q165.17 231.97 167.56 231.97Q169.96 231.97 169.96 229.97V222.8M173.18 223.36Q173.38 227.66 175.7 227.66Q178.01 227.66 178.21 223.84M180.36 216.42V220.13Q180.36 221.8 182.03 221.8Q183.71 221.8 183.71 220.13V216.02M184.3 215.33V219.8Q184.3 221.8 186.4 221.8Q188.49 221.8 188.49 219.8V215.31M191.48 217.62Q191.68 221.8 195.07 221.8Q198.45 221.8 198.65 217.56M201.64 217.62Q201.84 221.8 204.04 221.8Q206.23 221.8 206.43 217.46M206.43 215.22Q206.63 220.01 209.42 220.01Q212.21 220.01 212.41 215.44M214.2 222.78V226.88Q214.2 228.38 215.7 228.38Q217.19 228.38 217.19 226.88V222.44M217.79 223Q217.99 227.78 220.18 227.78Q222.37 227.78 222.57 222.74M224.36 221.8Q224.56 227.18 227.65 227.18Q230.74 227.18 230.94 222.05M235.13 220.61Q235.33 225.99 238.42 225.99Q241.5 225.99 241.7 220.56M243.5 219.41Q243.7 224.79 247.09 224.79Q250.47 224.79 250.67 219.47M254.26 218.21Q254.46 223 256.95 223Q259.44 223 259.64 218.55M263.83 218.21Q264.03 222.4 266.22 222.4Q268.41 222.4 268.61 218.11M269.81 217.02Q270.01 220.61 271.6 220.61Q273.19 220.61 273.39 217.14M275.19 217.02Q275.39 220.61 277.88 220.61Q280.37 220.61 280.57 217.42M281.76 217.02Q281.96 220.37 284.16 220.37Q286.35 220.37 286.55 216.95M287.74 217.02Q287.94 220.37 290.43 220.37Q292.92 220.37 293.12 216.81M296.11 246.85V252.09Q296.11 254.09 298.21 254.09Q300.3 254.09 300.3 252.09V246.42M300.9 243.07V249.3Q300.9 251.1 302.69 251.1Q304.48 251.1 304.48 249.3V242.76M305.08 240.21V244.91Q305.08 246.91 307.17 246.91Q309.27 246.91 309.27 244.91V240.27M308.67 239.54V243.45Q308.67 245.12 310.34 245.12Q312.02 245.12 312.02 243.45V239.75M332.62 232.19V238.34Q332.62 240.34 335.61 240.34Q338.59 240.34 338.59 238.34V232.45M338.59 230.58V237.74Q338.59 239.74 340.99 239.74Q343.38 239.74 343.38 237.74V230.49M346.37 231.43V237.14Q346.37 239.14 349.06 239.14Q351.75 239.14 351.75 237.14V231.1M353.54 233.76Q353.74 238.54 355.64 238.54Q357.53 238.54 357.73 233.51M357.73 233.76Q357.93 237.94 359.04 237.94Q360.16 237.94 360.36 234.02M360.72 231.97Q360.92 236.15 362.03 236.15Q363.15 236.15 363.35 232.18M363.71 229.57Q363.91 234.36 365.02 234.36Q366.14 234.36 366.34 230.07M366.7 227.18Q366.9 231.97 368.01 231.97Q369.13 231.97 369.33 227.54M369.69 224.79Q369.89 229.57 371 229.57Q372.12 229.57 372.32 224.72M372.68 222.4Q372.88 227.18 373.99 227.18Q375.11 227.18 375.31 222.41M375.07 220.01Q375.27 224.79 376.56 224.79Q377.86 224.79 378.06 220.24M382.6 202.68V206.97Q382.6 208.65 384.28 208.65Q385.95 208.65 385.95 206.97V202.99M386.67 195.61V208.44Q386.67 210.44 388.94 210.44Q391.21 210.44 391.21 208.44V195.58M395.4 209.25Q395.6 214.03 397.49 214.03Q399.38 214.03 399.58 209.56M403.17 205.15V210.23Q403.17 212.23 406.16 212.23Q409.15 212.23 409.15 210.23V205.23M409.15 204.47V209.25Q409.15 211.04 410.94 211.04Q412.74 211.04 412.74 209.25V203.92M413.93 205.66Q414.13 210.44 416.32 210.44Q418.51 210.44 418.71 205.72M419.31 202.09V206.65Q419.31 208.65 422 208.65Q424.69 208.65 424.69 206.65V202.05M427.68 208.65Q427.88 212.83 429.48 212.83Q431.07 212.83 431.27 208.57M431.27 205.66Q431.47 209.84 432.94 209.84Q434.42 209.84 434.62 205.69M434.26 202.07Q434.46 206.85 435.75 206.85Q437.05 206.85 437.25 202.06M436.65 197.31V202.07Q436.65 203.86 438.45 203.86Q440.24 203.86 440.24 202.07V197.36M440.84 196.2V200.28Q440.84 202.07 442.63 202.07Q444.42 202.07 444.42 200.28V196.21M445.02 196.69Q445.22 200.87 446.52 200.87Q447.81 200.87 448.01 196.57M448.61 192.67V196.48Q448.61 198.48 451 198.48Q453.39 198.48 453.39 196.48V192.84M452.2 191.91Q452.4 196.09 454.29 196.09Q456.18 196.09 456.38 191.82M458.77 192.5Q458.97 196.69 460.57 196.69Q462.16 196.69 462.36 192.21M464.16 187.42V192.3Q464.16 194.3 466.55 194.3Q468.94 194.3 468.94 192.3V187.38M468.34 187.12Q468.54 192.5 469.84 192.5Q471.13 192.5 471.33 187.59M472.53 184.62V188.11Q472.53 190.11 474.92 190.11Q477.31 190.11 477.31 188.11V184.49M479.7 184.13Q479.9 189.51 481.79 189.51Q483.69 189.51 483.89 184.37M482.69 181.18V185.93Q482.69 187.72 484.48 187.72Q486.28 187.72 486.28 185.93V181.77M488.67 179.9V183.93Q488.67 185.93 490.76 185.93Q492.86 185.93 492.86 183.93V179.96M494.05 175.72V183.33Q494.05 185.33 496.44 185.33Q498.83 185.33 498.83 183.33V175.44M501.01 251.66L522.39 250.11M501.01 251.66v-0.87M503.39 251.49v-1.24M505.76 251.32v-0.84M508.14 251.15v-0.85M510.51 250.97v-0.95M512.89 250.8v-0.91M515.26 250.63v-1.04M517.64 250.46v-0.84M520.01 250.28v-0.8M522.39 250.11v-0.91M525.88 247.35L535.6 243.57M524.1 244.87Q524.2 246.65 525.88 246.75Q527.57 246.65 527.97 244.47M525.88 244.27V247.65M527.98 243.15Q528.08 245.14 529.77 245.24Q531.46 245.14 531.86 242.75M529.77 242.55V246.14M531.87 241.91Q531.97 243.63 533.66 243.73Q535.34 243.63 535.74 241.51M533.66 241.31V244.63M540.09 247.27L556.98 241.37M538.09 244.17Q538.19 246.57 540.09 246.67Q541.99 246.57 542.39 243.77M540.09 243.57V247.57M542.91 242.69Q543.01 244.88 544.91 244.98Q546.81 244.88 547.21 242.29M544.91 242.09V245.88M547.74 241.38Q547.84 243.2 549.74 243.3Q551.64 243.2 552.04 240.98M549.74 240.78V244.2M552.56 239.61Q552.66 241.51 554.56 241.61Q556.46 241.51 556.86 239.21M554.56 239.01V242.51M558.66 248.94Q558.86 252.18 560.28 252.18Q561.7 252.18 561.9 248.92M561.64 245.06Q561.84 248.94 563.26 248.94Q564.68 248.94 564.88 245.05M564.75 241.56Q564.95 245.45 566.43 245.45Q567.92 245.45 568.12 241.36M568.67 236.77L586.12 229.06M566.67 233.69Q566.77 236.07 568.67 236.17Q570.57 236.07 570.97 233.29M568.67 233.09V237.07M571.65 231.38Q571.75 233.87 573.65 233.97Q575.55 233.87 575.95 230.98M573.65 230.78V234.87M576.64 229.59Q576.74 231.67 578.64 231.77Q580.54 231.67 580.94 229.19M578.64 228.99V232.67M581.63 227.38Q581.73 229.47 583.63 229.57Q585.53 229.47 585.93 226.98M583.63 226.78V230.47M587.42 250.24Q587.62 253.87 589.69 253.87Q591.75 253.87 591.95 250.01M592.34 248.3Q592.54 252.83 595.06 252.83Q597.58 252.83 597.78 248.27M598.17 245.71Q598.37 251.15 602.19 251.15Q606 251.15 606.2 246.07M611.13 245.71Q611.33 250.24 613.72 250.24Q616.11 250.24 616.31 245.42M618.9 243.76Q619.1 248.3 621.81 248.3Q624.53 248.3 624.73 243.88M625.38 241.17Q625.58 246.35 627.64 246.35Q629.71 246.35 629.91 241.31M630.17 239.88Q630.37 244.41 632.76 244.41Q635.15 244.41 635.35 240M637.04 243.76Q637.24 247.65 640.27 247.65Q643.31 247.65 643.51 244.15M644.16 243.11Q644.36 247.65 647.4 247.65Q650.44 247.65 650.64 243.02M653.23 243.11Q653.43 247 656.14 247Q658.86 247 659.06 242.95M659.06 243.11Q659.26 247 661.65 247Q664.04 247 664.24 243.24M666.83 242.47Q667.03 246.35 669.75 246.35Q672.46 246.35 672.66 242.43M673.31 242.47Q673.51 246.35 675.9 246.35Q678.29 246.35 678.49 242.82M678.49 241.82Q678.69 245.71 681.08 245.71Q683.47 245.71 683.67 242.2M683.67 241.82Q683.87 245.71 685.94 245.71Q688.01 245.71 688.21 242.17M692.19 257.74L703.12 252.95M690.19 255.16Q690.29 257.04 692.19 257.14Q694.09 257.04 694.49 254.76M692.19 254.56V258.04M694.56 253.01Q694.66 255.12 696.56 255.22Q698.46 255.12 698.86 252.61M696.56 252.41V256.12M698.94 251.22Q699.04 253.21 700.94 253.31Q702.84 253.21 703.24 250.82M700.94 250.62V254.21M711.12 257.94L732.5 251.07M709.12 255.51Q709.23 257.24 711.12 257.34Q713.02 257.24 713.42 255.11M711.12 254.91V258.24M713.88 253.99Q713.98 255.71 715.88 255.81Q717.77 255.71 718.17 253.59M715.88 253.39V256.71M718.62 252.26Q718.73 254.19 720.62 254.29Q722.52 254.19 722.92 251.86M720.62 251.66V255.19M723.38 250.76Q723.48 252.66 725.38 252.76Q727.27 252.66 727.67 250.36M725.38 250.16V253.66M728.12 248.88Q728.23 251.14 730.12 251.24Q732.02 251.14 732.42 248.48M730.12 248.28V252.14M740.16 257.73L748.12 254.82M738.16 254.57Q738.26 257.03 740.16 257.13Q742.06 257.03 742.46 254.17M740.16 253.97V258.03M743.47 253.04Q743.57 255.09 745.47 255.19Q747.37 255.09 747.77 252.64M745.47 252.44V256.09M754.06 254.98L762.5 251.7M752.06 251.83Q752.16 254.28 754.06 254.38Q755.96 254.28 756.36 251.43M754.06 251.23V255.28M757.69 249.6Q757.79 252.09 759.69 252.19Q761.59 252.09 761.99 249.2M759.69 249V253.09M763.44 251.49L774.38 247.32M761.44 248.33Q761.54 250.79 763.44 250.89Q765.34 250.79 765.74 247.93M763.44 247.73V251.79M765.81 247.13Q765.91 249.12 767.81 249.22Q769.71 249.12 770.11 246.73M767.81 246.53V250.12M770.19 245.58Q770.29 247.46 772.19 247.56Q774.09 247.46 774.49 245.18M772.19 244.98V248.46M779.53 246.79L787.5 244.82M777.53 244.21Q777.63 246.09 779.53 246.19Q781.43 246.09 781.83 243.81M779.53 243.61V247.09M782.84 242.92Q782.94 244.78 784.84 244.88Q786.74 244.78 787.14 242.52M784.84 242.32V245.78M796.98 231.39L810 226.7M794.98 228.82Q795.08 230.69 796.98 230.79Q798.88 230.69 799.28 228.42M796.98 228.22V231.69M800.19 226.61Q800.29 228.81 802.19 228.91Q804.09 228.81 804.49 226.21M802.19 226.01V229.81M805.4 224.52Q805.5 226.94 807.4 227.04Q809.3 226.94 809.7 224.12M807.4 223.92V227.94M814.9 222.85L826.88 219.2M812.9 219.77Q813 222.15 814.9 222.25Q816.8 222.15 817.2 219.37M814.9 219.17V223.15M817.69 218.6Q817.79 220.69 819.69 220.79Q821.59 220.69 821.99 218.2M819.69 218V221.69M822.48 217.01Q822.58 219.23 824.48 219.33Q826.38 219.23 826.78 216.61M824.48 216.41V220.23M831.41 244.2L839.38 242.32M829.41 241.16Q829.51 243.5 831.41 243.6Q833.31 243.5 833.71 240.76M831.41 240.56V244.5M834.72 240.48Q834.82 242.25 836.72 242.35Q838.62 242.25 839.02 240.08M836.72 239.88V243.25M844.14 245.14L860 242.95M842.14 242.21Q842.24 244.44 844.14 244.54Q846.04 244.44 846.44 241.81M844.14 241.61V245.44M846.67 241.38Q846.77 243.81 848.67 243.91Q850.57 243.81 850.97 240.98M848.67 240.78V244.81M851.2 240.86Q851.3 243.19 853.2 243.29Q855.1 243.19 855.5 240.46M853.2 240.26V244.19M855.73 240.26Q855.83 242.56 857.73 242.66Q859.63 242.56 860.03 239.86M857.73 239.66V243.56M855.1 239.41L868.12 237.32M853.1 236.63Q853.2 238.71 855.1 238.81Q857 238.71 857.4 236.23M855.1 236.03V239.71M858.31 236.03Q858.41 237.88 860.31 237.97Q862.21 237.88 862.61 235.63M860.31 235.43V238.88M863.52 234.71Q863.62 237.04 865.52 237.14Q867.42 237.04 867.82 234.31M865.52 234.11V238.04M873.02 240.14L885 238.57M871.02 237.47Q871.12 239.44 873.02 239.54Q874.92 239.44 875.32 237.07M873.02 236.87V240.44M875.81 236.47Q875.91 238.81 877.81 238.91Q879.71 238.81 880.11 236.07M877.81 235.87V239.81M880.6 235.71Q880.7 238.19 882.6 238.29Q884.5 238.19 884.9 235.31M882.6 235.11V239.19M888.33 239.51L898.75 237.95M886.42 236.8Q886.52 238.81 888.33 238.91Q890.15 238.81 890.55 236.4M888.33 236.2V239.81M890.58 236.17Q890.68 238.19 892.5 238.29Q894.32 238.19 894.72 235.77M892.5 235.57V239.19M894.75 235.11Q894.85 237.56 896.67 237.66Q898.48 237.56 898.88 234.71M896.67 234.51V238.56M899.69 237.12L910.62 236.07M897.69 234.14Q897.79 236.42 899.69 236.52Q901.59 236.42 901.99 233.74M899.69 233.54V237.42M902.06 234.16Q902.16 236 904.06 236.1Q905.96 236 906.36 233.76M904.06 233.56V237M906.44 233.78Q906.54 235.58 908.44 235.68Q910.34 235.58 910.74 233.38M908.44 233.18V236.58M915.23 250.74Q915.43 253.74 917.48 253.74Q919.53 253.74 919.73 250.56M921.53 248.04Q921.73 251.64 923.94 251.64Q926.14 251.64 926.34 248.38M928.74 251.94Q928.94 253.86 930.54 253.86Q932.15 253.86 932.35 252.3M932.77 251.04Q932.97 253.44 934.57 253.44Q936.17 253.44 936.37 251.52M939.37 248.64Q939.57 252.24 941.63 252.24Q943.68 252.24 943.88 248.86M947.18 249.72Q947.38 252.6 949.73 252.6Q952.09 252.6 952.29 249.86M955.77 248.94Q955.97 253.14 957.63 253.14Q959.3 253.14 959.5 248.65M962.38 250.14Q962.58 253.74 964.33 253.74Q966.08 253.74 966.28 250.61M966.88 249.54Q967.08 252.84 968.84 252.84Q970.59 252.84 970.79 249.76M979.02 242.33Q979.22 246.83 981.18 246.83Q983.14 246.83 983.34 242.45" fill="none" stroke="#1a1a1a" stroke-width="0.95"/><path transform="translate(996.6 -0.3)" d="M114.59 249.3Q114.79 254.69 116.38 254.69Q117.98 254.69 118.18 249.26M118.18 247.51Q118.38 251.7 119.97 251.7Q121.56 251.7 121.76 247.33M122.72 240.79V246.02Q122.72 247.51 124.22 247.51Q125.71 247.51 125.71 246.02V240.39M125.71 240.95V245.06Q125.71 246.55 127.2 246.55Q128.7 246.55 128.7 245.06V240.83M129.3 238.54Q129.5 243.92 130.79 243.92Q132.09 243.92 132.29 238.29M132.29 236.75Q132.49 241.53 133.78 241.53Q135.08 241.53 135.28 236.85M135.28 233.79V238.24Q135.28 239.74 136.77 239.74Q138.27 239.74 138.27 238.24V234.06M141.26 226.58Q141.46 231.97 143.35 231.97Q145.24 231.97 145.44 226.34M146.04 226.58Q146.24 231.97 147.83 231.97Q149.43 231.97 149.63 226.36M150.82 226.28V229.97Q150.82 231.97 153.21 231.97Q155.61 231.97 155.61 229.97V226.57M157.4 225.99Q157.6 231.37 159.79 231.37Q161.98 231.37 162.18 225.87M165.17 223.06V229.97Q165.17 231.97 167.56 231.97Q169.96 231.97 169.96 229.97V222.8M173.18 223.36Q173.38 227.66 175.7 227.66Q178.01 227.66 178.21 223.84M180.36 216.42V220.13Q180.36 221.8 182.03 221.8Q183.71 221.8 183.71 220.13V216.02M184.3 215.33V219.8Q184.3 221.8 186.4 221.8Q188.49 221.8 188.49 219.8V215.31M191.48 217.62Q191.68 221.8 195.07 221.8Q198.45 221.8 198.65 217.56M201.64 217.62Q201.84 221.8 204.04 221.8Q206.23 221.8 206.43 217.46M206.43 215.22Q206.63 220.01 209.42 220.01Q212.21 220.01 212.41 215.44M214.2 222.78V226.88Q214.2 228.38 215.7 228.38Q217.19 228.38 217.19 226.88V222.44M217.79 223Q217.99 227.78 220.18 227.78Q222.37 227.78 222.57 222.74M224.36 221.8Q224.56 227.18 227.65 227.18Q230.74 227.18 230.94 222.05M235.13 220.61Q235.33 225.99 238.42 225.99Q241.5 225.99 241.7 220.56M243.5 219.41Q243.7 224.79 247.09 224.79Q250.47 224.79 250.67 219.47M254.26 218.21Q254.46 223 256.95 223Q259.44 223 259.64 218.55M263.83 218.21Q264.03 222.4 266.22 222.4Q268.41 222.4 268.61 218.11M269.81 217.02Q270.01 220.61 271.6 220.61Q273.19 220.61 273.39 217.14M275.19 217.02Q275.39 220.61 277.88 220.61Q280.37 220.61 280.57 217.42M281.76 217.02Q281.96 220.37 284.16 220.37Q286.35 220.37 286.55 216.95M287.74 217.02Q287.94 220.37 290.43 220.37Q292.92 220.37 293.12 216.81M296.11 246.85V252.09Q296.11 254.09 298.21 254.09Q300.3 254.09 300.3 252.09V246.42M300.9 243.07V249.3Q300.9 251.1 302.69 251.1Q304.48 251.1 304.48 249.3V242.76M305.08 240.21V244.91Q305.08 246.91 307.17 246.91Q309.27 246.91 309.27 244.91V240.27M308.67 239.54V243.45Q308.67 245.12 310.34 245.12Q312.02 245.12 312.02 243.45V239.75M332.62 232.19V238.34Q332.62 240.34 335.61 240.34Q338.59 240.34 338.59 238.34V232.45M338.59 230.58V237.74Q338.59 239.74 340.99 239.74Q343.38 239.74 343.38 237.74V230.49M346.37 231.43V237.14Q346.37 239.14 349.06 239.14Q351.75 239.14 351.75 237.14V231.1M353.54 233.76Q353.74 238.54 355.64 238.54Q357.53 238.54 357.73 233.51M357.73 233.76Q357.93 237.94 359.04 237.94Q360.16 237.94 360.36 234.02M360.72 231.97Q360.92 236.15 362.03 236.15Q363.15 236.15 363.35 232.18M363.71 229.57Q363.91 234.36 365.02 234.36Q366.14 234.36 366.34 230.07M366.7 227.18Q366.9 231.97 368.01 231.97Q369.13 231.97 369.33 227.54M369.69 224.79Q369.89 229.57 371 229.57Q372.12 229.57 372.32 224.72M372.68 222.4Q372.88 227.18 373.99 227.18Q375.11 227.18 375.31 222.41M375.07 220.01Q375.27 224.79 376.56 224.79Q377.86 224.79 378.06 220.24M382.6 202.68V206.97Q382.6 208.65 384.28 208.65Q385.95 208.65 385.95 206.97V202.99M386.67 195.61V208.44Q386.67 210.44 388.94 210.44Q391.21 210.44 391.21 208.44V195.58M395.4 209.25Q395.6 214.03 397.49 214.03Q399.38 214.03 399.58 209.56M403.17 205.15V210.23Q403.17 212.23 406.16 212.23Q409.15 212.23 409.15 210.23V205.23M409.15 204.47V209.25Q409.15 211.04 410.94 211.04Q412.74 211.04 412.74 209.25V203.92M413.93 205.66Q414.13 210.44 416.32 210.44Q418.51 210.44 418.71 205.72M419.31 202.09V206.65Q419.31 208.65 422 208.65Q424.69 208.65 424.69 206.65V202.05M427.68 208.65Q427.88 212.83 429.48 212.83Q431.07 212.83 431.27 208.57M431.27 205.66Q431.47 209.84 432.94 209.84Q434.42 209.84 434.62 205.69M434.26 202.07Q434.46 206.85 435.75 206.85Q437.05 206.85 437.25 202.06M436.65 197.31V202.07Q436.65 203.86 438.45 203.86Q440.24 203.86 440.24 202.07V197.36M440.84 196.2V200.28Q440.84 202.07 442.63 202.07Q444.42 202.07 444.42 200.28V196.21M445.02 196.69Q445.22 200.87 446.52 200.87Q447.81 200.87 448.01 196.57M448.61 192.67V196.48Q448.61 198.48 451 198.48Q453.39 198.48 453.39 196.48V192.84M452.2 191.91Q452.4 196.09 454.29 196.09Q456.18 196.09 456.38 191.82M458.77 192.5Q458.97 196.69 460.57 196.69Q462.16 196.69 462.36 192.21M464.16 187.42V192.3Q464.16 194.3 466.55 194.3Q468.94 194.3 468.94 192.3V187.38M468.34 187.12Q468.54 192.5 469.84 192.5Q471.13 192.5 471.33 187.59M472.53 184.62V188.11Q472.53 190.11 474.92 190.11Q477.31 190.11 477.31 188.11V184.49M479.7 184.13Q479.9 189.51 481.79 189.51Q483.69 189.51 483.89 184.37M482.69 181.18V185.93Q482.69 187.72 484.48 187.72Q486.28 187.72 486.28 185.93V181.77M488.67 179.9V183.93Q488.67 185.93 490.76 185.93Q492.86 185.93 492.86 183.93V179.96M494.05 175.72V183.33Q494.05 185.33 496.44 185.33Q498.83 185.33 498.83 183.33V175.44M501.01 251.66L522.39 250.11M501.01 251.66v-0.87M503.39 251.49v-1.24M505.76 251.32v-0.84M508.14 251.15v-0.85M510.51 250.97v-0.95M512.89 250.8v-0.91M515.26 250.63v-1.04M517.64 250.46v-0.84M520.01 250.28v-0.8M522.39 250.11v-0.91M525.88 247.35L535.6 243.57M524.1 244.87Q524.2 246.65 525.88 246.75Q527.57 246.65 527.97 244.47M525.88 244.27V247.65M527.98 243.15Q528.08 245.14 529.77 245.24Q531.46 245.14 531.86 242.75M529.77 242.55V246.14M531.87 241.91Q531.97 243.63 533.66 243.73Q535.34 243.63 535.74 241.51M533.66 241.31V244.63M540.09 247.27L556.98 241.37M538.09 244.17Q538.19 246.57 540.09 246.67Q541.99 246.57 542.39 243.77M540.09 243.57V247.57M542.91 242.69Q543.01 244.88 544.91 244.98Q546.81 244.88 547.21 242.29M544.91 242.09V245.88M547.74 241.38Q547.84 243.2 549.74 243.3Q551.64 243.2 552.04 240.98M549.74 240.78V244.2M552.56 239.61Q552.66 241.51 554.56 241.61Q556.46 241.51 556.86 239.21M554.56 239.01V242.51M558.66 248.94Q558.86 252.18 560.28 252.18Q561.7 252.18 561.9 248.92M561.64 245.06Q561.84 248.94 563.26 248.94Q564.68 248.94 564.88 245.05M564.75 241.56Q564.95 245.45 566.43 245.45Q567.92 245.45 568.12 241.36M568.67 236.77L586.12 229.06M566.67 233.69Q566.77 236.07 568.67 236.17Q570.57 236.07 570.97 233.29M568.67 233.09V237.07M571.65 231.38Q571.75 233.87 573.65 233.97Q575.55 233.87 575.95 230.98M573.65 230.78V234.87M576.64 229.59Q576.74 231.67 578.64 231.77Q580.54 231.67 580.94 229.19M578.64 228.99V232.67M581.63 227.38Q581.73 229.47 583.63 229.57Q585.53 229.47 585.93 226.98M583.63 226.78V230.47M587.42 250.24Q587.62 253.87 589.69 253.87Q591.75 253.87 591.95 250.01M592.34 248.3Q592.54 252.83 595.06 252.83Q597.58 252.83 597.78 248.27M598.17 245.71Q598.37 251.15 602.19 251.15Q606 251.15 606.2 246.07M611.13 245.71Q611.33 250.24 613.72 250.24Q616.11 250.24 616.31 245.42M618.9 243.76Q619.1 248.3 621.81 248.3Q624.53 248.3 624.73 243.88M625.38 241.17Q625.58 246.35 627.64 246.35Q629.71 246.35 629.91 241.31M630.17 239.88Q630.37 244.41 632.76 244.41Q635.15 244.41 635.35 240M637.04 243.76Q637.24 247.65 640.27 247.65Q643.31 247.65 643.51 244.15M644.16 243.11Q644.36 247.65 647.4 247.65Q650.44 247.65 650.64 243.02M653.23 243.11Q653.43 247 656.14 247Q658.86 247 659.06 242.95M659.06 243.11Q659.26 247 661.65 247Q664.04 247 664.24 243.24M666.83 242.47Q667.03 246.35 669.75 246.35Q672.46 246.35 672.66 242.43M673.31 242.47Q673.51 246.35 675.9 246.35Q678.29 246.35 678.49 242.82M678.49 241.82Q678.69 245.71 681.08 245.71Q683.47 245.71 683.67 242.2M683.67 241.82Q683.87 245.71 685.94 245.71Q688.01 245.71 688.21 242.17M692.19 257.74L703.12 252.95M690.19 255.16Q690.29 257.04 692.19 257.14Q694.09 257.04 694.49 254.76M692.19 254.56V258.04M694.56 253.01Q694.66 255.12 696.56 255.22Q698.46 255.12 698.86 252.61M696.56 252.41V256.12M698.94 251.22Q699.04 253.21 700.94 253.31Q702.84 253.21 703.24 250.82M700.94 250.62V254.21M711.12 257.94L732.5 251.07M709.12 255.51Q709.23 257.24 711.12 257.34Q713.02 257.24 713.42 255.11M711.12 254.91V258.24M713.88 253.99Q713.98 255.71 715.88 255.81Q717.77 255.71 718.17 253.59M715.88 253.39V256.71M718.62 252.26Q718.73 254.19 720.62 254.29Q722.52 254.19 722.92 251.86M720.62 251.66V255.19M723.38 250.76Q723.48 252.66 725.38 252.76Q727.27 252.66 727.67 250.36M725.38 250.16V253.66M728.12 248.88Q728.23 251.14 730.12 251.24Q732.02 251.14 732.42 248.48M730.12 248.28V252.14M740.16 257.73L748.12 254.82M738.16 254.57Q738.26 257.03 740.16 257.13Q742.06 257.03 742.46 254.17M740.16 253.97V258.03M743.47 253.04Q743.57 255.09 745.47 255.19Q747.37 255.09 747.77 252.64M745.47 252.44V256.09M754.06 254.98L762.5 251.7M752.06 251.83Q752.16 254.28 754.06 254.38Q755.96 254.28 756.36 251.43M754.06 251.23V255.28M757.69 249.6Q757.79 252.09 759.69 252.19Q761.59 252.09 761.99 249.2M759.69 249V253.09M763.44 251.49L774.38 247.32M761.44 248.33Q761.54 250.79 763.44 250.89Q765.34 250.79 765.74 247.93M763.44 247.73V251.79M765.81 247.13Q765.91 249.12 767.81 249.22Q769.71 249.12 770.11 246.73M767.81 246.53V250.12M770.19 245.58Q770.29 247.46 772.19 247.56Q774.09 247.46 774.49 245.18M772.19 244.98V248.46M779.53 246.79L787.5 244.82M777.53 244.21Q777.63 246.09 779.53 246.19Q781.43 246.09 781.83 243.81M779.53 243.61V247.09M782.84 242.92Q782.94 244.78 784.84 244.88Q786.74 244.78 787.14 242.52M784.84 242.32V245.78M796.98 231.39L810 226.7M794.98 228.82Q795.08 230.69 796.98 230.79Q798.88 230.69 799.28 228.42M796.98 228.22V231.69M800.19 226.61Q800.29 228.81 802.19 228.91Q804.09 228.81 804.49 226.21M802.19 226.01V229.81M805.4 224.52Q805.5 226.94 807.4 227.04Q809.3 226.94 809.7 224.12M807.4 223.92V227.94M814.9 222.85L826.88 219.2M812.9 219.77Q813 222.15 814.9 222.25Q816.8 222.15 817.2 219.37M814.9 219.17V223.15M817.69 218.6Q817.79 220.69 819.69 220.79Q821.59 220.69 821.99 218.2M819.69 218V221.69M822.48 217.01Q822.58 219.23 824.48 219.33Q826.38 219.23 826.78 216.61M824.48 216.41V220.23M831.41 244.2L839.38 242.32M829.41 241.16Q829.51 243.5 831.41 243.6Q833.31 243.5 833.71 240.76M831.41 240.56V244.5M834.72 240.48Q834.82 242.25 836.72 242.35Q838.62 242.25 839.02 240.08M836.72 239.88V243.25M844.14 245.14L860 242.95M842.14 242.21Q842.24 244.44 844.14 244.54Q846.04 244.44 846.44 241.81M844.14 241.61V245.44M846.67 241.38Q846.77 243.81 848.67 243.91Q850.57 243.81 850.97 240.98M848.67 240.78V244.81M851.2 240.86Q851.3 243.19 853.2 243.29Q855.1 243.19 855.5 240.46M853.2 240.26V244.19M855.73 240.26Q855.83 242.56 857.73 242.66Q859.63 242.56 860.03 239.86M857.73 239.66V243.56M855.1 239.41L868.12 237.32M853.1 236.63Q853.2 238.71 855.1 238.81Q857 238.71 857.4 236.23M855.1 236.03V239.71M858.31 236.03Q858.41 237.88 860.31 237.97Q862.21 237.88 862.61 235.63M860.31 235.43V238.88M863.52 234.71Q863.62 237.04 865.52 237.14Q867.42 237.04 867.82 234.31M865.52 234.11V238.04M873.02 240.14L885 238.57M871.02 237.47Q871.12 239.44 873.02 239.54Q874.92 239.44 875.32 237.07M873.02 236.87V240.44M875.81 236.47Q875.91 238.81 877.81 238.91Q879.71 238.81 880.11 236.07M877.81 235.87V239.81M880.6 235.71Q880.7 238.19 882.6 238.29Q884.5 238.19 884.9 235.31M882.6 235.11V239.19M888.33 239.51L898.75 237.95M886.42 236.8Q886.52 238.81 888.33 238.91Q890.15 238.81 890.55 236.4M888.33 236.2V239.81M890.58 236.17Q890.68 238.19 892.5 238.29Q894.32 238.19 894.72 235.77M892.5 235.57V239.19M894.75 235.11Q894.85 237.56 896.67 237.66Q898.48 237.56 898.88 234.71M896.67 234.51V238.56M899.69 237.12L910.62 236.07M897.69 234.14Q897.79 236.42 899.69 236.52Q901.59 236.42 901.99 233.74M899.69 233.54V237.42M902.06 234.16Q902.16 236 904.06 236.1Q905.96 236 906.36 233.76M904.06 233.56V237M906.44 233.78Q906.54 235.58 908.44 235.68Q910.34 235.58 910.74 233.38M908.44 233.18V236.58M915.23 250.74Q915.43 253.74 917.48 253.74Q919.53 253.74 919.73 250.56M921.53 248.04Q921.73 251.64 923.94 251.64Q926.14 251.64 926.34 248.38M928.74 251.94Q928.94 253.86 930.54 253.86Q932.15 253.86 932.35 252.3M932.77 251.04Q932.97 253.44 934.57 253.44Q936.17 253.44 936.37 251.52M939.37 248.64Q939.57 252.24 941.63 252.24Q943.68 252.24 943.88 248.86M947.18 249.72Q947.38 252.6 949.73 252.6Q952.09 252.6 952.29 249.86M955.77 248.94Q955.97 253.14 957.63 253.14Q959.3 253.14 959.5 248.65M962.38 250.14Q962.58 253.74 964.33 253.74Q966.08 253.74 966.28 250.61M966.88 249.54Q967.08 252.84 968.84 252.84Q970.59 252.84 970.79 249.76M979.02 242.33Q979.22 246.83 981.18 246.83Q983.14 246.83 983.34 242.45" fill="none" stroke="#1a1a1a" stroke-width="0.95"/>
<g shape-rendering="auto">
<rect x="750.3" y="414.34" width="1.67" height="8.9" fill="#b5222a"/>
<rect x="751.97" y="414.34" width="0.78" height="8.9" fill="#e8a11f"/>
<rect x="752.75" y="414.34" width="2.23" height="8.9" fill="#7fd4e8"/>
<rect x="754.97" y="414.34" width="198.03" height="8.9" fill="#9059a4"/>
<rect x="750.3" y="423.24" width="1.89" height="8.9" fill="#8c97cf"/>
<rect x="752.19" y="423.24" width="200.81" height="8.9" fill="#9059a4"/>
<rect x="750.3" y="432.14" width="3.23" height="8.9" fill="#b5222a"/>
<rect x="753.53" y="432.14" width="3.12" height="8.9" fill="#556b2f"/>
<rect x="756.64" y="432.14" width="1.11" height="8.9" fill="#8a9a3a"/>
<rect x="757.75" y="432.14" width="2.78" height="8.9" fill="#008b8d"/>
<rect x="760.54" y="432.14" width="192.46" height="8.9" fill="#9059a4"/>
<rect x="750.3" y="441.03" width="1.67" height="8.9" fill="#8a9a3a"/>
<rect x="751.97" y="441.03" width="199.92" height="8.9" fill="#9059a4"/>
<rect x="951.89" y="441.03" width="1.11" height="8.9" fill="#53409a"/>
<rect x="750.3" y="449.93" width="3.23" height="8.9" fill="#cfc772"/>
<rect x="753.53" y="449.93" width="199.47" height="8.9" fill="#9059a4"/>
<rect x="750.3" y="458.83" width="10.57" height="8.82" fill="#8c97cf"/>
<rect x="760.87" y="458.83" width="68.98" height="8.82" fill="#f4f4dc"/>
<rect x="829.84" y="458.83" width="123.16" height="8.82" fill="#556b2f"/>
<rect x="750.3" y="467.65" width="17.47" height="8.82" fill="#f4f4dc"/>
<rect x="767.77" y="467.65" width="180.78" height="8.82" fill="#556b2f"/>
<rect x="948.55" y="467.65" width="2.23" height="8.82" fill="#7fd4e8"/>
<rect x="950.77" y="467.65" width="2.23" height="8.82" fill="#9059a4"/>
<rect x="750.3" y="476.47" width="157.64" height="8.82" fill="#556b2f"/>
<rect x="907.94" y="476.47" width="45.06" height="8.82" fill="#94c93f"/>
<rect x="750.3" y="485.28" width="6.12" height="8.82" fill="#8c97cf"/>
<rect x="756.42" y="485.28" width="2.67" height="8.82" fill="#93e0d2"/>
<rect x="759.09" y="485.28" width="190.91" height="8.82" fill="#556b2f"/>
<rect x="950" y="485.28" width="3" height="8.82" fill="#a8ecf4"/>
<rect x="750.3" y="494.1" width="1.11" height="8.82" fill="#8c97cf"/>
<rect x="751.41" y="494.1" width="162.65" height="8.82" fill="#556b2f"/>
<rect x="914.06" y="494.1" width="3" height="8.82" fill="#cfc772"/>
<rect x="917.07" y="494.1" width="3.34" height="8.82" fill="#e8a11f"/>
<rect x="920.4" y="494.1" width="3.12" height="8.82" fill="#7fd4e8"/>
<rect x="923.52" y="494.1" width="2" height="8.82" fill="#8c97cf"/>
<rect x="925.52" y="494.1" width="7.45" height="8.82" fill="#9059a4"/>
<rect x="932.97" y="494.1" width="11.46" height="8.82" fill="#8fbc8f"/>
<rect x="944.43" y="494.1" width="8.57" height="8.82" fill="#e62e8a"/>
<rect x="750.3" y="502.92" width="3" height="8.82" fill="#b5222a"/>
<rect x="753.3" y="502.92" width="2.45" height="8.82" fill="#a8ecf4"/>
<rect x="755.75" y="502.92" width="177.22" height="8.82" fill="#556b2f"/>
<rect x="932.97" y="502.92" width="3.34" height="8.82" fill="#e8a11f"/>
<rect x="936.31" y="502.92" width="5.9" height="8.82" fill="#008b8d"/>
<rect x="942.21" y="502.92" width="4.12" height="8.82" fill="#7fd4e8"/>
<rect x="946.32" y="502.92" width="2.78" height="8.82" fill="#f5a887"/>
<rect x="949.11" y="502.92" width="3.89" height="8.82" fill="#53409a"/>
<rect x="750.3" y="511.74" width="2.11" height="8.82" fill="#b5222a"/>
<rect x="752.41" y="511.74" width="186.68" height="8.82" fill="#556b2f"/>
<rect x="939.09" y="511.74" width="1.34" height="8.82" fill="#8b5a2b"/>
<rect x="940.43" y="511.74" width="2.89" height="8.82" fill="#a8ecf4"/>
<rect x="943.32" y="511.74" width="2.45" height="8.82" fill="#9059a4"/>
<rect x="945.77" y="511.74" width="3.34" height="8.82" fill="#f5a887"/>
<rect x="949.11" y="511.74" width="3.12" height="8.82" fill="#53409a"/>
<rect x="952.22" y="511.74" width="0.78" height="8.82" fill="#e62e8a"/>
<rect x="750.3" y="520.56" width="200.47" height="8.82" fill="#556b2f"/>
<rect x="950.77" y="520.56" width="2.23" height="8.82" fill="#cfc772"/>
<rect x="750.3" y="529.38" width="202.7" height="8.82" fill="#556b2f"/>
<rect x="750.3" y="538.19" width="202.7" height="8.82" fill="#556b2f"/>
<rect x="750.3" y="547.01" width="197.69" height="8.82" fill="#556b2f"/>
<rect x="947.99" y="547.01" width="2.23" height="8.82" fill="#7b98d4"/>
<rect x="950.22" y="547.01" width="1.67" height="8.82" fill="#9059a4"/>
<rect x="951.89" y="547.01" width="1.11" height="8.82" fill="#53409a"/>
<rect x="750.3" y="555.83" width="37.71" height="8.82" fill="#8c97cf"/>
<rect x="788.01" y="555.83" width="52.96" height="8.82" fill="#f4f4dc"/>
<rect x="840.97" y="555.83" width="112.03" height="8.82" fill="#556b2f"/>
<rect x="750.3" y="564.65" width="170.44" height="8.82" fill="#8c97cf"/>
<rect x="920.74" y="564.65" width="32.26" height="8.82" fill="#556b2f"/>
<rect x="750.3" y="573.47" width="165.43" height="8.82" fill="#8c97cf"/>
<rect x="915.73" y="573.47" width="34.49" height="8.82" fill="#556b2f"/>
<rect x="950.22" y="573.47" width="2.78" height="8.82" fill="#9059a4"/>
<rect x="750.3" y="582.29" width="168.99" height="8.82" fill="#8c97cf"/>
<rect x="919.29" y="582.29" width="33.71" height="8.82" fill="#556b2f"/>
<rect x="750.3" y="591.1" width="158.2" height="8.82" fill="#8c97cf"/>
<rect x="908.5" y="591.1" width="4.78" height="8.82" fill="#f4f4dc"/>
<rect x="913.28" y="591.1" width="36.71" height="8.82" fill="#556b2f"/>
<rect x="950" y="591.1" width="1.34" height="8.82" fill="#008b8d"/>
<rect x="951.33" y="591.1" width="1.67" height="8.82" fill="#9059a4"/>
<rect x="750.3" y="599.92" width="168.55" height="8.82" fill="#8c97cf"/>
<rect x="918.85" y="599.92" width="31.93" height="8.82" fill="#556b2f"/>
<rect x="950.77" y="599.92" width="2.23" height="8.82" fill="#8fbc8f"/>
<rect x="750.3" y="608.74" width="152.64" height="8.82" fill="#8c97cf"/>
<rect x="902.94" y="608.74" width="2.23" height="8.82" fill="#fbb3c7"/>
<rect x="905.16" y="608.74" width="29.26" height="8.82" fill="#f4f4dc"/>
<rect x="934.42" y="608.74" width="5.79" height="8.82" fill="#cfc772"/>
<rect x="940.21" y="608.74" width="3.12" height="8.82" fill="#e8a11f"/>
<rect x="943.32" y="608.74" width="1.89" height="8.82" fill="#8c97cf"/>
<rect x="945.21" y="608.74" width="4.12" height="8.82" fill="#94c93f"/>
<rect x="949.33" y="608.74" width="2" height="8.82" fill="#8fbc8f"/>
<rect x="951.33" y="608.74" width="1.67" height="8.82" fill="#e62e8a"/>
<rect x="750.3" y="617.56" width="199.36" height="8.82" fill="#8c97cf"/>
<rect x="949.66" y="617.56" width="3.34" height="8.82" fill="#fdfdf3"/>
<rect x="750.3" y="626.38" width="187.46" height="8.82" fill="#8c97cf"/>
<rect x="937.76" y="626.38" width="15.24" height="8.82" fill="#f4f4dc"/>
<rect x="750.3" y="635.2" width="180.12" height="8.82" fill="#8c97cf"/>
<rect x="930.42" y="635.2" width="11.13" height="8.82" fill="#f4f4dc"/>
<rect x="941.54" y="635.2" width="5.9" height="8.82" fill="#008b8d"/>
<rect x="947.44" y="635.2" width="3.89" height="8.82" fill="#7fd4e8"/>
<rect x="951.33" y="635.2" width="1.67" height="8.82" fill="#9059a4"/>
<rect x="750.3" y="644.01" width="200.14" height="8.82" fill="#8c97cf"/>
<rect x="950.44" y="644.01" width="2.56" height="8.82" fill="#008b8d"/>
<rect x="750.3" y="652.83" width="197.69" height="8.82" fill="#8c97cf"/>
<rect x="947.99" y="652.83" width="1.11" height="8.82" fill="#8b5a2b"/>
<rect x="949.11" y="652.83" width="2.78" height="8.82" fill="#9059a4"/>
<rect x="951.89" y="652.83" width="1.11" height="8.82" fill="#53409a"/>
<rect x="750.3" y="661.65" width="202.7" height="8.83" fill="#8c97cf"/>
<rect x="750.3" y="670.48" width="194.36" height="8.83" fill="#8c97cf"/>
<rect x="944.66" y="670.48" width="2" height="8.83" fill="#fbb3c7"/>
<rect x="946.66" y="670.48" width="2.45" height="8.83" fill="#f28b24"/>
<rect x="949.11" y="670.48" width="1.67" height="8.83" fill="#7b98d4"/>
<rect x="950.77" y="670.48" width="2.23" height="8.83" fill="#9059a4"/>
<rect x="750.3" y="679.31" width="182.12" height="8.83" fill="#8c97cf"/>
<rect x="932.42" y="679.31" width="18.02" height="8.83" fill="#f4f4dc"/>
<rect x="950.44" y="679.31" width="1.45" height="8.83" fill="#f28b24"/>
<rect x="951.89" y="679.31" width="1.11" height="8.83" fill="#3b3b1f"/>
<rect x="750.3" y="688.15" width="202.7" height="8.83" fill="#8c97cf"/>
<rect x="750.3" y="696.98" width="81.77" height="8.83" fill="#8c97cf"/>
<rect x="832.07" y="696.98" width="77.54" height="8.83" fill="#f4f4dc"/>
<rect x="909.61" y="696.98" width="2.78" height="8.83" fill="#c6d4d6"/>
<rect x="912.39" y="696.98" width="3.12" height="8.83" fill="#93e0d2"/>
<rect x="915.51" y="696.98" width="2.23" height="8.83" fill="#f28b24"/>
<rect x="917.73" y="696.98" width="30.82" height="8.83" fill="#008b8d"/>
<rect x="948.55" y="696.98" width="2.78" height="8.83" fill="#8a9a3a"/>
<rect x="951.33" y="696.98" width="1.67" height="8.83" fill="#f5a887"/>
<rect x="750.3" y="705.81" width="83.33" height="8.83" fill="#8c97cf"/>
<rect x="833.63" y="705.81" width="2" height="8.83" fill="#fbb3c7"/>
<rect x="835.63" y="705.81" width="63.64" height="8.83" fill="#f4f4dc"/>
<rect x="899.27" y="705.81" width="3.12" height="8.83" fill="#c6d4d6"/>
<rect x="902.38" y="705.81" width="3.34" height="8.83" fill="#cfc772"/>
<rect x="905.72" y="705.81" width="3.12" height="8.83" fill="#e8a11f"/>
<rect x="908.83" y="705.81" width="25.25" height="8.83" fill="#008b8d"/>
<rect x="934.09" y="705.81" width="2.23" height="8.83" fill="#7fd4e8"/>
<rect x="936.31" y="705.81" width="3.89" height="8.83" fill="#7b98d4"/>
<rect x="940.21" y="705.81" width="2.78" height="8.83" fill="#f5a887"/>
<rect x="942.99" y="705.81" width="10.01" height="8.83" fill="#e62e8a"/>
<rect x="750.3" y="714.64" width="1.67" height="8.83" fill="#b5222a"/>
<rect x="751.97" y="714.64" width="56.07" height="8.83" fill="#8c97cf"/>
<rect x="808.04" y="714.64" width="98.23" height="8.83" fill="#f4f4dc"/>
<rect x="906.27" y="714.64" width="3.34" height="8.83" fill="#c6d4d6"/>
<rect x="909.61" y="714.64" width="2.78" height="8.83" fill="#e8a11f"/>
<rect x="912.39" y="714.64" width="36.16" height="8.83" fill="#008b8d"/>
<rect x="948.55" y="714.64" width="1.67" height="8.83" fill="#f5a887"/>
<rect x="950.22" y="714.64" width="2.78" height="8.83" fill="#53409a"/>
<rect x="750.3" y="723.48" width="91.45" height="8.83" fill="#8c97cf"/>
<rect x="841.75" y="723.48" width="81.21" height="8.83" fill="#f4f4dc"/>
<rect x="922.96" y="723.48" width="19.47" height="8.83" fill="#008b8d"/>
<rect x="942.43" y="723.48" width="1.67" height="8.83" fill="#8c97cf"/>
<rect x="944.1" y="723.48" width="3.89" height="8.83" fill="#9059a4"/>
<rect x="947.99" y="723.48" width="1.67" height="8.83" fill="#f5a887"/>
<rect x="949.66" y="723.48" width="3.34" height="8.83" fill="#e62e8a"/>
<rect x="750.3" y="732.31" width="3.23" height="8.83" fill="#b5222a"/>
<rect x="753.53" y="732.31" width="63.19" height="8.83" fill="#8c97cf"/>
<rect x="816.72" y="732.31" width="94.01" height="8.83" fill="#f4f4dc"/>
<rect x="910.72" y="732.31" width="1.67" height="8.83" fill="#f28b24"/>
<rect x="912.39" y="732.31" width="2.23" height="8.83" fill="#cfc772"/>
<rect x="914.62" y="732.31" width="2" height="8.83" fill="#e8a11f"/>
<rect x="916.62" y="732.31" width="28.59" height="8.83" fill="#008b8d"/>
<rect x="945.21" y="732.31" width="2.23" height="8.83" fill="#7fd4e8"/>
<rect x="947.44" y="732.31" width="2.78" height="8.83" fill="#94c93f"/>
<rect x="950.22" y="732.31" width="2.78" height="8.83" fill="#e62e8a"/>
<rect x="750.3" y="741.14" width="68.42" height="8.83" fill="#8c97cf"/>
<rect x="818.72" y="741.14" width="53.62" height="8.83" fill="#f4f4dc"/>
<rect x="872.34" y="741.14" width="80.66" height="8.83" fill="#008b8d"/>
<rect x="750.3" y="749.97" width="31.71" height="8.83" fill="#8c97cf"/>
<rect x="782.01" y="749.97" width="27.15" height="8.83" fill="#f4f4dc"/>
<rect x="809.15" y="749.97" width="1.45" height="8.83" fill="#556b2f"/>
<rect x="810.6" y="749.97" width="2.78" height="8.83" fill="#e8a11f"/>
<rect x="813.38" y="749.97" width="137.4" height="8.83" fill="#008b8d"/>
<rect x="950.77" y="749.97" width="2.23" height="8.83" fill="#7fd4e8"/>
<rect x="750.3" y="758.8" width="19.91" height="8.83" fill="#8c97cf"/>
<rect x="770.21" y="758.8" width="182.79" height="8.83" fill="#008b8d"/>
<rect x="750.3" y="767.64" width="8.01" height="8.83" fill="#8c97cf"/>
<rect x="758.31" y="767.64" width="8.12" height="8.83" fill="#f4f4dc"/>
<rect x="766.43" y="767.64" width="186.57" height="8.83" fill="#008b8d"/>
<rect x="750.3" y="776.47" width="3.89" height="8.83" fill="#8c97cf"/>
<rect x="754.19" y="776.47" width="2.23" height="8.83" fill="#f4f4dc"/>
<rect x="756.42" y="776.47" width="196.58" height="8.83" fill="#008b8d"/>
<rect x="750.3" y="785.3" width="16.35" height="8.83" fill="#8c97cf"/>
<rect x="766.65" y="785.3" width="19.14" height="8.83" fill="#f4f4dc"/>
<rect x="785.79" y="785.3" width="167.21" height="8.83" fill="#008b8d"/>
<rect x="750.3" y="794.13" width="13.57" height="8.83" fill="#f4f4dc"/>
<rect x="763.87" y="794.13" width="189.13" height="8.83" fill="#008b8d"/>
<rect x="750.3" y="802.96" width="12.46" height="8.83" fill="#8c97cf"/>
<rect x="762.76" y="802.96" width="3.67" height="8.83" fill="#e8a11f"/>
<rect x="766.43" y="802.96" width="174.89" height="8.83" fill="#008b8d"/>
<rect x="941.32" y="802.96" width="8.34" height="8.83" fill="#7fd4e8"/>
<rect x="949.66" y="802.96" width="3.34" height="8.83" fill="#7b98d4"/>
<rect x="750.3" y="811.8" width="3.89" height="8.83" fill="#f28b24"/>
<rect x="754.19" y="811.8" width="197.14" height="8.83" fill="#008b8d"/>
<rect x="951.33" y="811.8" width="1.67" height="8.83" fill="#e62e8a"/>
<rect x="750.3" y="820.63" width="4.12" height="8.83" fill="#b5222a"/>
<rect x="754.42" y="820.63" width="5.34" height="8.83" fill="#fbb3c7"/>
<rect x="759.76" y="820.63" width="16.69" height="8.83" fill="#f4f4dc"/>
<rect x="776.44" y="820.63" width="1.89" height="8.83" fill="#c6d4d6"/>
<rect x="778.34" y="820.63" width="1.45" height="8.83" fill="#8b5a2b"/>
<rect x="779.78" y="820.63" width="160.98" height="8.83" fill="#008b8d"/>
<rect x="940.76" y="820.63" width="1.67" height="8.83" fill="#8c97cf"/>
<rect x="942.43" y="820.63" width="2.45" height="8.83" fill="#cfc772"/>
<rect x="944.88" y="820.63" width="7.01" height="8.83" fill="#53409a"/>
<rect x="951.89" y="820.63" width="1.11" height="8.83" fill="#e62e8a"/>
<rect x="750.3" y="829.46" width="202.7" height="8.83" fill="#008b8d"/>
<rect x="750.3" y="838.29" width="202.7" height="8.83" fill="#008b8d"/>
<rect x="750.3" y="847.12" width="202.7" height="8.83" fill="#008b8d"/>
<rect x="750.3" y="855.96" width="202.7" height="8.83" fill="#008b8d"/>
<rect x="750.3" y="864.79" width="1.34" height="8.83" fill="#3b3b1f"/>
<rect x="751.64" y="864.79" width="201.36" height="8.83" fill="#008b8d"/>
<rect x="750.3" y="873.62" width="10.24" height="8.83" fill="#8c97cf"/>
<rect x="760.54" y="873.62" width="182.79" height="8.83" fill="#f4f4dc"/>
<rect x="943.32" y="873.62" width="8.01" height="8.83" fill="#008b8d"/>
<rect x="951.33" y="873.62" width="1.67" height="8.83" fill="#8a9a3a"/>
<rect x="750.3" y="882.45" width="3.23" height="8.83" fill="#8c97cf"/>
<rect x="753.53" y="882.45" width="182.79" height="8.83" fill="#f4f4dc"/>
<rect x="936.31" y="882.45" width="6.68" height="8.83" fill="#008b8d"/>
<rect x="942.99" y="882.45" width="2.23" height="8.83" fill="#7b98d4"/>
<rect x="945.21" y="882.45" width="1.67" height="8.83" fill="#8a9a3a"/>
<rect x="946.88" y="882.45" width="3.89" height="8.83" fill="#9059a4"/>
<rect x="950.77" y="882.45" width="2.23" height="8.83" fill="#e62e8a"/>
<rect x="750.3" y="891.29" width="10.24" height="8.83" fill="#8c97cf"/>
<rect x="760.54" y="891.29" width="178.56" height="8.83" fill="#f4f4dc"/>
<rect x="939.09" y="891.29" width="5.56" height="8.83" fill="#008b8d"/>
<rect x="944.66" y="891.29" width="2.45" height="8.83" fill="#7b98d4"/>
<rect x="947.1" y="891.29" width="5.9" height="8.83" fill="#9059a4"/>
<rect x="750.3" y="900.12" width="7.23" height="8.83" fill="#8c97cf"/>
<rect x="757.53" y="900.12" width="156.86" height="8.83" fill="#f4f4dc"/>
<rect x="914.4" y="900.12" width="2.67" height="8.83" fill="#c6d4d6"/>
<rect x="917.07" y="900.12" width="2.89" height="8.83" fill="#556b2f"/>
<rect x="919.96" y="900.12" width="5.79" height="8.83" fill="#008b8d"/>
<rect x="925.74" y="900.12" width="12.79" height="8.83" fill="#7b98d4"/>
<rect x="938.54" y="900.12" width="2.56" height="8.83" fill="#9059a4"/>
<rect x="941.1" y="900.12" width="11.9" height="8.83" fill="#8fbc8f"/>
<rect x="750.3" y="908.95" width="21.36" height="8.83" fill="#8c97cf"/>
<rect x="771.66" y="908.95" width="165.43" height="8.83" fill="#f4f4dc"/>
<rect x="937.09" y="908.95" width="1.45" height="8.83" fill="#008b8d"/>
<rect x="938.54" y="908.95" width="2.78" height="8.83" fill="#7b98d4"/>
<rect x="941.32" y="908.95" width="1.67" height="8.83" fill="#8a9a3a"/>
<rect x="942.99" y="908.95" width="6.68" height="8.83" fill="#9059a4"/>
<rect x="949.66" y="908.95" width="3.34" height="8.83" fill="#e62e8a"/>
<rect x="750.3" y="917.78" width="23.03" height="8.83" fill="#8c97cf"/>
<rect x="773.33" y="917.78" width="10.57" height="8.83" fill="#fbb3c7"/>
<rect x="783.9" y="917.78" width="154.08" height="8.83" fill="#f4f4dc"/>
<rect x="937.98" y="917.78" width="5.56" height="8.83" fill="#c6d4d6"/>
<rect x="943.54" y="917.78" width="3.89" height="8.83" fill="#a8ecf4"/>
<rect x="947.44" y="917.78" width="5.56" height="8.83" fill="#53409a"/>
<rect x="750.3" y="926.61" width="2.45" height="8.83" fill="#8c97cf"/>
<rect x="752.75" y="926.61" width="163.54" height="8.83" fill="#f4f4dc"/>
<rect x="916.29" y="926.61" width="10.79" height="8.83" fill="#c6d4d6"/>
<rect x="927.08" y="926.61" width="5.34" height="8.83" fill="#556b2f"/>
<rect x="932.42" y="926.61" width="10.24" height="8.83" fill="#8fbc8f"/>
<rect x="942.65" y="926.61" width="10.35" height="8.83" fill="#53409a"/>
<rect x="750.3" y="935.45" width="11.35" height="8.83" fill="#8c97cf"/>
<rect x="761.65" y="935.45" width="191.35" height="8.83" fill="#f4f4dc"/>
<rect x="750.3" y="944.28" width="13.24" height="8.83" fill="#8c97cf"/>
<rect x="763.54" y="944.28" width="186.12" height="8.83" fill="#f4f4dc"/>
<rect x="949.66" y="944.28" width="3.34" height="8.83" fill="#7d9a85"/>
<rect x="750.3" y="953.11" width="4.12" height="8.83" fill="#8c97cf"/>
<rect x="754.42" y="953.11" width="191.35" height="8.83" fill="#f4f4dc"/>
<rect x="945.77" y="953.11" width="2" height="8.83" fill="#f28b24"/>
<rect x="947.77" y="953.11" width="1.89" height="8.83" fill="#008b8d"/>
<rect x="949.66" y="953.11" width="1.67" height="8.83" fill="#a8ecf4"/>
<rect x="951.33" y="953.11" width="1.67" height="8.83" fill="#8b5a2b"/>
<rect x="750.3" y="961.94" width="4.67" height="8.83" fill="#8c97cf"/>
<rect x="754.97" y="961.94" width="192.46" height="8.83" fill="#f4f4dc"/>
<rect x="947.44" y="961.94" width="1.11" height="8.83" fill="#f28b24"/>
<rect x="948.55" y="961.94" width="4.45" height="8.83" fill="#008b8d"/>
<rect x="750.3" y="970.77" width="7.68" height="8.83" fill="#8c97cf"/>
<rect x="757.98" y="970.77" width="188.9" height="8.83" fill="#f4f4dc"/>
<rect x="946.88" y="970.77" width="1.67" height="8.83" fill="#f28b24"/>
<rect x="948.55" y="970.77" width="2.78" height="8.83" fill="#a8ecf4"/>
<rect x="951.33" y="970.77" width="1.67" height="8.83" fill="#f5a887"/>
<rect x="750.3" y="979.61" width="198.81" height="8.83" fill="#f4f4dc"/>
<rect x="949.11" y="979.61" width="3.89" height="8.83" fill="#9059a4"/>
<rect x="750.3" y="988.44" width="202.7" height="8.83" fill="#f4f4dc"/>
<rect x="750.3" y="997.27" width="7.23" height="8.83" fill="#8c97cf"/>
<rect x="757.53" y="997.27" width="191.35" height="8.83" fill="#f4f4dc"/>
<rect x="948.88" y="997.27" width="1.89" height="8.83" fill="#556b2f"/>
<rect x="950.77" y="997.27" width="2.23" height="8.83" fill="#9059a4"/>
<rect x="750.3" y="1006.1" width="6.56" height="8.83" fill="#8c97cf"/>
<rect x="756.86" y="1006.1" width="183.9" height="8.83" fill="#f4f4dc"/>
<rect x="940.76" y="1006.1" width="1.67" height="8.83" fill="#008b8d"/>
<rect x="942.43" y="1006.1" width="10.57" height="8.83" fill="#9059a4"/>
<rect x="750.3" y="1014.94" width="201.59" height="8.83" fill="#f4f4dc"/>
<rect x="951.89" y="1014.94" width="1.11" height="8.83" fill="#008b8d"/>
<rect x="750.3" y="1023.77" width="199.92" height="8.83" fill="#f4f4dc"/>
<rect x="950.22" y="1023.77" width="1.67" height="8.83" fill="#cfc772"/>
<rect x="951.89" y="1023.77" width="1.11" height="8.83" fill="#008b8d"/>
<rect x="750.3" y="1032.6" width="202.7" height="8.83" fill="#f4f4dc"/>
<rect x="750.3" y="1041.43" width="201.92" height="8.83" fill="#f4f4dc"/>
<rect x="952.22" y="1041.43" width="0.78" height="8.83" fill="#008b8d"/>
<rect x="750.3" y="1050.26" width="202.7" height="8.83" fill="#f4f4dc"/>
<rect x="750.3" y="1059.1" width="202.7" height="8.83" fill="#f4f4dc"/>
<rect x="750.3" y="1067.93" width="202.7" height="8.83" fill="#f4f4dc"/>
<rect x="750.3" y="1076.76" width="201.03" height="8.83" fill="#f4f4dc"/>
<rect x="951.33" y="1076.76" width="1.67" height="8.83" fill="#008b8d"/>
<rect x="750.3" y="1085.59" width="193.24" height="8.83" fill="#f4f4dc"/>
<rect x="943.54" y="1085.59" width="3.12" height="8.83" fill="#cfc772"/>
<rect x="946.66" y="1085.59" width="4.12" height="8.83" fill="#7fd4e8"/>
<rect x="950.77" y="1085.59" width="2.23" height="8.83" fill="#53409a"/>
<rect x="750.3" y="1094.42" width="202.7" height="8.83" fill="#f4f4dc"/>
<rect x="750.3" y="1103.26" width="202.7" height="8.83" fill="#f4f4dc"/>
<rect x="750.3" y="1112.09" width="1.67" height="8.83" fill="#8b5a2b"/>
<rect x="751.97" y="1112.09" width="184.34" height="8.83" fill="#f4f4dc"/>
<rect x="936.31" y="1112.09" width="4.45" height="8.83" fill="#93e0d2"/>
<rect x="940.76" y="1112.09" width="2.23" height="8.83" fill="#e8a11f"/>
<rect x="942.99" y="1112.09" width="7.79" height="8.83" fill="#008b8d"/>
<rect x="950.77" y="1112.09" width="2.23" height="8.83" fill="#53409a"/>
<rect x="750.3" y="1120.92" width="1.34" height="8.83" fill="#8c97cf"/>
<rect x="751.64" y="1120.92" width="191.69" height="8.83" fill="#f4f4dc"/>
<rect x="943.32" y="1120.92" width="3.34" height="8.83" fill="#556b2f"/>
<rect x="946.66" y="1120.92" width="6.34" height="8.83" fill="#008b8d"/>
<rect x="750.3" y="1129.75" width="201.03" height="8.83" fill="#f4f4dc"/>
<rect x="951.33" y="1129.75" width="1.67" height="8.83" fill="#7fd4e8"/>
<rect x="750.3" y="1138.59" width="4.12" height="8.83" fill="#b5222a"/>
<rect x="754.42" y="1138.59" width="183.01" height="8.83" fill="#f4f4dc"/>
<rect x="937.42" y="1138.59" width="2.56" height="8.83" fill="#8a9a3a"/>
<rect x="939.98" y="1138.59" width="10.24" height="8.83" fill="#7fd4e8"/>
<rect x="950.22" y="1138.59" width="2.78" height="8.83" fill="#e62e8a"/>
<rect x="750.3" y="1147.42" width="4.67" height="8.83" fill="#b5222a"/>
<rect x="754.97" y="1147.42" width="1.67" height="8.83" fill="#8c97cf"/>
<rect x="756.64" y="1147.42" width="180.78" height="8.83" fill="#f4f4dc"/>
<rect x="937.42" y="1147.42" width="6.34" height="8.83" fill="#c6d4d6"/>
<rect x="943.77" y="1147.42" width="2" height="8.83" fill="#556b2f"/>
<rect x="945.77" y="1147.42" width="2.23" height="8.83" fill="#e8a11f"/>
<rect x="947.99" y="1147.42" width="2.78" height="8.83" fill="#008b8d"/>
<rect x="950.77" y="1147.42" width="2.23" height="8.83" fill="#f5a887"/>
<path d="M750.3 414.34H953M750.3 423.24H953M750.3 432.14H953M750.3 441.03H953M750.3 449.93H953M750.3 458.83H953M750.3 467.65H953M750.3 476.47H953M750.3 485.28H953M750.3 494.1H953M750.3 502.92H953M750.3 511.74H953M750.3 520.56H953M750.3 529.38H953M750.3 538.19H953M750.3 547.01H953M750.3 555.83H953M750.3 564.65H953M750.3 573.47H953M750.3 582.29H953M750.3 591.1H953M750.3 599.92H953M750.3 608.74H953M750.3 617.56H953M750.3 626.38H953M750.3 635.2H953M750.3 644.01H953M750.3 652.83H953M750.3 661.65H953M750.3 670.48H953M750.3 679.31H953M750.3 688.15H953M750.3 696.98H953M750.3 705.81H953M750.3 714.64H953M750.3 723.48H953M750.3 732.31H953M750.3 741.14H953M750.3 749.97H953M750.3 758.8H953M750.3 767.64H953M750.3 776.47H953M750.3 785.3H953M750.3 794.13H953M750.3 802.96H953M750.3 811.8H953M750.3 820.63H953M750.3 829.46H953M750.3 838.29H953M750.3 847.12H953M750.3 855.96H953M750.3 864.79H953M750.3 873.62H953M750.3 882.45H953M750.3 891.29H953M750.3 900.12H953M750.3 908.95H953M750.3 917.78H953M750.3 926.61H953M750.3 935.45H953M750.3 944.28H953M750.3 953.11H953M750.3 961.94H953M750.3 970.77H953M750.3 979.61H953M750.3 988.44H953M750.3 997.27H953M750.3 1006.1H953M750.3 1014.94H953M750.3 1023.77H953M750.3 1032.6H953M750.3 1041.43H953M750.3 1050.26H953M750.3 1059.1H953M750.3 1067.93H953M750.3 1076.76H953M750.3 1085.59H953M750.3 1094.42H953M750.3 1103.26H953M750.3 1112.09H953M750.3 1120.92H953M750.3 1129.75H953M750.3 1138.59H953M750.3 1147.42H953M750.3 1156.25H953M750.3 414.34V1156.25M953 414.34V1156.25" fill="none" stroke="#1c1c1c" stroke-opacity="0.58" stroke-width="0.6"/>
<path d="M751.97 414.34V423.24M752.75 414.34V423.24M754.97 414.34V423.24M752.19 423.24V432.14M753.53 432.14V441.03M756.64 432.14V441.03M757.75 432.14V441.03M760.54 432.14V441.03M751.97 441.03V449.93M951.89 441.03V449.93M753.53 449.93V458.83M760.87 458.83V467.65M829.84 458.83V467.65M767.77 467.65V476.47M948.55 467.65V476.47M950.77 467.65V476.47M907.94 476.47V485.28M756.42 485.28V494.1M759.09 485.28V494.1M950 485.28V494.1M751.41 494.1V502.92M914.06 494.1V502.92M917.07 494.1V502.92M920.4 494.1V502.92M923.52 494.1V502.92M925.52 494.1V502.92M932.97 494.1V502.92M944.43 494.1V502.92M753.3 502.92V511.74M755.75 502.92V511.74M932.97 502.92V511.74M936.31 502.92V511.74M942.21 502.92V511.74M946.32 502.92V511.74M949.11 502.92V511.74M752.41 511.74V520.56M939.09 511.74V520.56M940.43 511.74V520.56M943.32 511.74V520.56M945.77 511.74V520.56M949.11 511.74V520.56M952.22 511.74V520.56M950.77 520.56V529.38M947.99 547.01V555.83M950.22 547.01V555.83M951.89 547.01V555.83M788.01 555.83V564.65M840.97 555.83V564.65M920.74 564.65V573.47M915.73 573.47V582.29M950.22 573.47V582.29M919.29 582.29V591.1M908.5 591.1V599.92M913.28 591.1V599.92M950 591.1V599.92M951.33 591.1V599.92M918.85 599.92V608.74M950.77 599.92V608.74M902.94 608.74V617.56M905.16 608.74V617.56M934.42 608.74V617.56M940.21 608.74V617.56M943.32 608.74V617.56M945.21 608.74V617.56M949.33 608.74V617.56M951.33 608.74V617.56M949.66 617.56V626.38M937.76 626.38V635.2M930.42 635.2V644.01M941.54 635.2V644.01M947.44 635.2V644.01M951.33 635.2V644.01M950.44 644.01V652.83M947.99 652.83V661.65M949.11 652.83V661.65M951.89 652.83V661.65M944.66 670.48V679.31M946.66 670.48V679.31M949.11 670.48V679.31M950.77 670.48V679.31M932.42 679.31V688.15M950.44 679.31V688.15M951.89 679.31V688.15M832.07 696.98V705.81M909.61 696.98V705.81M912.39 696.98V705.81M915.51 696.98V705.81M917.73 696.98V705.81M948.55 696.98V705.81M951.33 696.98V705.81M833.63 705.81V714.64M835.63 705.81V714.64M899.27 705.81V714.64M902.38 705.81V714.64M905.72 705.81V714.64M908.83 705.81V714.64M934.09 705.81V714.64M936.31 705.81V714.64M940.21 705.81V714.64M942.99 705.81V714.64M751.97 714.64V723.48M808.04 714.64V723.48M906.27 714.64V723.48M909.61 714.64V723.48M912.39 714.64V723.48M948.55 714.64V723.48M950.22 714.64V723.48M841.75 723.48V732.31M922.96 723.48V732.31M942.43 723.48V732.31M944.1 723.48V732.31M947.99 723.48V732.31M949.66 723.48V732.31M753.53 732.31V741.14M816.72 732.31V741.14M910.72 732.31V741.14M912.39 732.31V741.14M914.62 732.31V741.14M916.62 732.31V741.14M945.21 732.31V741.14M947.44 732.31V741.14M950.22 732.31V741.14M818.72 741.14V749.97M872.34 741.14V749.97M782.01 749.97V758.8M809.15 749.97V758.8M810.6 749.97V758.8M813.38 749.97V758.8M950.77 749.97V758.8M770.21 758.8V767.64M758.31 767.64V776.47M766.43 767.64V776.47M754.19 776.47V785.3M756.42 776.47V785.3M766.65 785.3V794.13M785.79 785.3V794.13M763.87 794.13V802.96M762.76 802.96V811.8M766.43 802.96V811.8M941.32 802.96V811.8M949.66 802.96V811.8M754.19 811.8V820.63M951.33 811.8V820.63M754.42 820.63V829.46M759.76 820.63V829.46M776.44 820.63V829.46M778.34 820.63V829.46M779.78 820.63V829.46M940.76 820.63V829.46M942.43 820.63V829.46M944.88 820.63V829.46M951.89 820.63V829.46M751.64 864.79V873.62M760.54 873.62V882.45M943.32 873.62V882.45M951.33 873.62V882.45M753.53 882.45V891.29M936.31 882.45V891.29M942.99 882.45V891.29M945.21 882.45V891.29M946.88 882.45V891.29M950.77 882.45V891.29M760.54 891.29V900.12M939.09 891.29V900.12M944.66 891.29V900.12M947.1 891.29V900.12M757.53 900.12V908.95M914.4 900.12V908.95M917.07 900.12V908.95M919.96 900.12V908.95M925.74 900.12V908.95M938.54 900.12V908.95M941.1 900.12V908.95M771.66 908.95V917.78M937.09 908.95V917.78M938.54 908.95V917.78M941.32 908.95V917.78M942.99 908.95V917.78M949.66 908.95V917.78M773.33 917.78V926.61M783.9 917.78V926.61M937.98 917.78V926.61M943.54 917.78V926.61M947.44 917.78V926.61M752.75 926.61V935.45M916.29 926.61V935.45M927.08 926.61V935.45M932.42 926.61V935.45M942.65 926.61V935.45M761.65 935.45V944.28M763.54 944.28V953.11M949.66 944.28V953.11M754.42 953.11V961.94M945.77 953.11V961.94M947.77 953.11V961.94M949.66 953.11V961.94M951.33 953.11V961.94M754.97 961.94V970.77M947.44 961.94V970.77M948.55 961.94V970.77M757.98 970.77V979.61M946.88 970.77V979.61M948.55 970.77V979.61M951.33 970.77V979.61M949.11 979.61V988.44M757.53 997.27V1006.1M948.88 997.27V1006.1M950.77 997.27V1006.1M756.86 1006.1V1014.94M940.76 1006.1V1014.94M942.43 1006.1V1014.94M951.89 1014.94V1023.77M950.22 1023.77V1032.6M951.89 1023.77V1032.6M952.22 1041.43V1050.26M951.33 1076.76V1085.59M943.54 1085.59V1094.42M946.66 1085.59V1094.42M950.77 1085.59V1094.42M751.97 1112.09V1120.92M936.31 1112.09V1120.92M940.76 1112.09V1120.92M942.99 1112.09V1120.92M950.77 1112.09V1120.92M751.64 1120.92V1129.75M943.32 1120.92V1129.75M946.66 1120.92V1129.75M951.33 1129.75V1138.59M754.42 1138.59V1147.42M937.42 1138.59V1147.42M939.98 1138.59V1147.42M950.22 1138.59V1147.42M754.97 1147.42V1156.25M756.64 1147.42V1156.25M937.42 1147.42V1156.25M943.77 1147.42V1156.25M945.77 1147.42V1156.25M947.99 1147.42V1156.25M950.77 1147.42V1156.25" fill="none" stroke="#222" stroke-opacity="0.45" stroke-width="0.5"/>
</g>
<g shape-rendering="auto">
<rect x="1706.2" y="412.2" width="55.17" height="21.2" fill="#556b2f"/>
<rect x="1761.37" y="412.2" width="173.02" height="21.2" fill="#94c93f"/>
<rect x="1934.39" y="412.2" width="1.01" height="21.2" fill="#3b3b1f"/>
<rect x="1706.2" y="433.4" width="225.55" height="21.3" fill="#94c93f"/>
<rect x="1931.75" y="433.4" width="3.04" height="21.3" fill="#53409a"/>
<rect x="1934.79" y="433.4" width="0.61" height="21.3" fill="#94c93f"/>
<rect x="1706.2" y="454.7" width="229.2" height="21.6" fill="#94c93f"/>
<rect x="1706.2" y="476.3" width="229.2" height="21.3" fill="#94c93f"/>
<rect x="1706.2" y="497.6" width="229.2" height="21.5" fill="#94c93f"/>
<rect x="1706.2" y="519.1" width="1.62" height="21.3" fill="#8b1a1a"/>
<rect x="1707.82" y="519.1" width="3.04" height="21.3" fill="#f28b24"/>
<rect x="1710.87" y="519.1" width="222.51" height="21.3" fill="#94c93f"/>
<rect x="1933.37" y="519.1" width="2.03" height="21.3" fill="#e62e8a"/>
<rect x="1706.2" y="540.4" width="10.14" height="21.3" fill="#94c93f"/>
<rect x="1716.34" y="540.4" width="1.42" height="21.3" fill="#c6d4d6"/>
<rect x="1717.76" y="540.4" width="217.64" height="21.3" fill="#e62e8a"/>
<rect x="1706.2" y="561.7" width="1.42" height="21" fill="#8fbc8f"/>
<rect x="1707.62" y="561.7" width="7.1" height="21" fill="#f28b24"/>
<rect x="1714.72" y="561.7" width="1.22" height="21" fill="#c6d4d6"/>
<rect x="1715.94" y="561.7" width="12.58" height="21" fill="#94c93f"/>
<rect x="1728.51" y="561.7" width="1.22" height="21" fill="#53409a"/>
<rect x="1729.73" y="561.7" width="205.67" height="21" fill="#e62e8a"/>
<rect x="1706.2" y="582.7" width="5.07" height="21" fill="#f28b24"/>
<rect x="1711.27" y="582.7" width="5.27" height="21" fill="#008b8d"/>
<rect x="1716.54" y="582.7" width="7.5" height="21" fill="#94c93f"/>
<rect x="1724.05" y="582.7" width="2.43" height="21" fill="#c6d4d6"/>
<rect x="1726.48" y="582.7" width="1.22" height="21" fill="#53409a"/>
<rect x="1727.7" y="582.7" width="207.7" height="21" fill="#e62e8a"/>
<rect x="1706.2" y="603.7" width="2.43" height="21.2" fill="#f28b24"/>
<rect x="1708.63" y="603.7" width="12.78" height="21.2" fill="#94c93f"/>
<rect x="1721.41" y="603.7" width="6.49" height="21.2" fill="#8fbc8f"/>
<rect x="1727.9" y="603.7" width="207.5" height="21.2" fill="#e62e8a"/>
<rect x="1706.2" y="624.9" width="11.16" height="21" fill="#8c97cf"/>
<rect x="1717.36" y="624.9" width="3.04" height="21" fill="#c6d4d6"/>
<rect x="1720.4" y="624.9" width="3.04" height="21" fill="#93e0d2"/>
<rect x="1723.44" y="624.9" width="5.07" height="21" fill="#cfc772"/>
<rect x="1728.51" y="624.9" width="6.49" height="21" fill="#7fd4e8"/>
<rect x="1735" y="624.9" width="7.1" height="21" fill="#53409a"/>
<rect x="1742.1" y="624.9" width="193.3" height="21" fill="#e62e8a"/>
<rect x="1706.2" y="645.9" width="5.68" height="21" fill="#cfc772"/>
<rect x="1711.88" y="645.9" width="223.52" height="21" fill="#e62e8a"/>
<rect x="1706.2" y="666.9" width="11.76" height="21" fill="#556b2f"/>
<rect x="1717.96" y="666.9" width="2.43" height="21" fill="#cfc772"/>
<rect x="1720.4" y="666.9" width="4.67" height="21" fill="#7b98d4"/>
<rect x="1725.06" y="666.9" width="210.34" height="21" fill="#e62e8a"/>
<rect x="1706.2" y="687.9" width="3.04" height="21.1" fill="#8c97cf"/>
<rect x="1709.24" y="687.9" width="2.03" height="21.1" fill="#fbb3c7"/>
<rect x="1711.27" y="687.9" width="4.67" height="21.1" fill="#f4f4dc"/>
<rect x="1715.94" y="687.9" width="12.17" height="21.1" fill="#556b2f"/>
<rect x="1728.11" y="687.9" width="5.48" height="21.1" fill="#cfc772"/>
<rect x="1733.58" y="687.9" width="2.64" height="21.1" fill="#008b8d"/>
<rect x="1736.22" y="687.9" width="1.62" height="21.1" fill="#7fd4e8"/>
<rect x="1737.84" y="687.9" width="2.84" height="21.1" fill="#9059a4"/>
<rect x="1740.68" y="687.9" width="6.08" height="21.1" fill="#8fbc8f"/>
<rect x="1746.77" y="687.9" width="1.01" height="21.1" fill="#53409a"/>
<rect x="1747.78" y="687.9" width="187.62" height="21.1" fill="#e62e8a"/>
<rect x="1706.2" y="709" width="6.49" height="21.1" fill="#f4f4dc"/>
<rect x="1712.69" y="709" width="10.14" height="21.1" fill="#556b2f"/>
<rect x="1722.83" y="709" width="2.64" height="21.1" fill="#f28b24"/>
<rect x="1725.47" y="709" width="4.46" height="21.1" fill="#a8ecf4"/>
<rect x="1729.93" y="709" width="5.68" height="21.1" fill="#9059a4"/>
<rect x="1735.61" y="709" width="199.79" height="21.1" fill="#e62e8a"/>
<rect x="1706.2" y="730.1" width="1.62" height="21.1" fill="#8b1a1a"/>
<rect x="1707.82" y="730.1" width="12.58" height="21.1" fill="#f28b24"/>
<rect x="1720.4" y="730.1" width="16.63" height="21.1" fill="#556b2f"/>
<rect x="1737.03" y="730.1" width="1.62" height="21.1" fill="#cfc772"/>
<rect x="1738.65" y="730.1" width="2.03" height="21.1" fill="#008b8d"/>
<rect x="1740.68" y="730.1" width="1.62" height="21.1" fill="#7fd4e8"/>
<rect x="1742.3" y="730.1" width="4.46" height="21.1" fill="#9059a4"/>
<rect x="1746.77" y="730.1" width="1.62" height="21.1" fill="#f5a887"/>
<rect x="1748.39" y="730.1" width="13.39" height="21.1" fill="#8fbc8f"/>
<rect x="1761.78" y="730.1" width="173.62" height="21.1" fill="#e62e8a"/>
<rect x="1706.2" y="751.2" width="6.08" height="21.1" fill="#f28b24"/>
<rect x="1712.28" y="751.2" width="3.04" height="21.1" fill="#94c93f"/>
<rect x="1715.33" y="751.2" width="220.07" height="21.1" fill="#e62e8a"/>
<rect x="1706.2" y="772.3" width="229.2" height="21" fill="#e62e8a"/>
<rect x="1706.2" y="793.3" width="229.2" height="20.9" fill="#e62e8a"/>
<rect x="1706.2" y="814.2" width="2.03" height="21.1" fill="#fdfdf3"/>
<rect x="1708.23" y="814.2" width="227.17" height="21.1" fill="#e62e8a"/>
<rect x="1706.2" y="835.3" width="1.62" height="21.1" fill="#94c93f"/>
<rect x="1707.82" y="835.3" width="227.58" height="21.1" fill="#e62e8a"/>
<rect x="1706.2" y="856.4" width="1.62" height="21.1" fill="#8b1a1a"/>
<rect x="1707.82" y="856.4" width="4.46" height="21.1" fill="#cfc772"/>
<rect x="1712.28" y="856.4" width="223.12" height="21.1" fill="#e62e8a"/>
<rect x="1706.2" y="877.5" width="229.2" height="21.1" fill="#e62e8a"/>
<rect x="1706.2" y="898.6" width="6.08" height="21.8" fill="#8c97cf"/>
<rect x="1712.28" y="898.6" width="10.75" height="21.8" fill="#f4f4dc"/>
<rect x="1723.04" y="898.6" width="14.6" height="21.8" fill="#556b2f"/>
<rect x="1737.64" y="898.6" width="197.76" height="21.8" fill="#8fbc8f"/>
<rect x="1706.2" y="920.4" width="229.2" height="21.6" fill="#8fbc8f"/>
<rect x="1706.2" y="942" width="4.67" height="21.8" fill="#c6d4d6"/>
<rect x="1710.87" y="942" width="70.79" height="21.8" fill="#f28b24"/>
<rect x="1781.65" y="942" width="5.68" height="21.8" fill="#7b98d4"/>
<rect x="1787.33" y="942" width="4.06" height="21.8" fill="#94c93f"/>
<rect x="1791.39" y="942" width="135.49" height="21.8" fill="#8fbc8f"/>
<rect x="1926.88" y="942" width="8.52" height="21.8" fill="#e62e8a"/>
<rect x="1706.2" y="963.8" width="34.08" height="21.7" fill="#f28b24"/>
<rect x="1740.28" y="963.8" width="2.03" height="21.7" fill="#94c93f"/>
<rect x="1742.3" y="963.8" width="178.9" height="21.7" fill="#8fbc8f"/>
<rect x="1921.2" y="963.8" width="14.2" height="21.7" fill="#e62e8a"/>
<rect x="1706.2" y="985.5" width="30.83" height="21.8" fill="#f28b24"/>
<rect x="1737.03" y="985.5" width="179.51" height="21.8" fill="#8fbc8f"/>
<rect x="1916.54" y="985.5" width="18.86" height="21.8" fill="#e62e8a"/>
<rect x="1706.2" y="1007.3" width="3.04" height="19.2" fill="#fdfdf3"/>
<rect x="1709.24" y="1007.3" width="7.1" height="19.2" fill="#93e0d2"/>
<rect x="1716.34" y="1007.3" width="216.02" height="19.2" fill="#f28b24"/>
<rect x="1932.36" y="1007.3" width="3.04" height="19.2" fill="#7fd4e8"/>
<rect x="1706.2" y="1026.5" width="229.2" height="19.5" fill="#f28b24"/>
<rect x="1706.2" y="1046" width="229.2" height="19.1" fill="#f28b24"/>
<rect x="1706.2" y="1065.1" width="229.2" height="19.5" fill="#f28b24"/>
<rect x="1706.2" y="1084.6" width="3.04" height="19.5" fill="#f4f4dc"/>
<rect x="1709.24" y="1084.6" width="6.08" height="19.5" fill="#c6d4d6"/>
<rect x="1715.33" y="1084.6" width="209.93" height="19.5" fill="#f28b24"/>
<rect x="1925.26" y="1084.6" width="4.46" height="19.5" fill="#008b8d"/>
<rect x="1929.72" y="1084.6" width="3.65" height="19.5" fill="#94c93f"/>
<rect x="1933.37" y="1084.6" width="2.03" height="19.5" fill="#f28b24"/>
<rect x="1706.2" y="1104.1" width="171.39" height="19.4" fill="#f28b24"/>
<rect x="1877.59" y="1104.1" width="3.45" height="19.4" fill="#94c93f"/>
<rect x="1881.04" y="1104.1" width="29" height="19.4" fill="#8fbc8f"/>
<rect x="1910.05" y="1104.1" width="25.35" height="19.4" fill="#e62e8a"/>
<path d="M1706.2 412.2H1935.4M1706.2 433.4H1935.4M1706.2 454.7H1935.4M1706.2 476.3H1935.4M1706.2 497.6H1935.4M1706.2 519.1H1935.4M1706.2 540.4H1935.4M1706.2 561.7H1935.4M1706.2 582.7H1935.4M1706.2 603.7H1935.4M1706.2 624.9H1935.4M1706.2 645.9H1935.4M1706.2 666.9H1935.4M1706.2 687.9H1935.4M1706.2 709H1935.4M1706.2 730.1H1935.4M1706.2 751.2H1935.4M1706.2 772.3H1935.4M1706.2 793.3H1935.4M1706.2 814.2H1935.4M1706.2 835.3H1935.4M1706.2 856.4H1935.4M1706.2 877.5H1935.4M1706.2 898.6H1935.4M1706.2 920.4H1935.4M1706.2 942H1935.4M1706.2 963.8H1935.4M1706.2 985.5H1935.4M1706.2 1007.3H1935.4M1706.2 1026.5H1935.4M1706.2 1046H1935.4M1706.2 1065.1H1935.4M1706.2 1084.6H1935.4M1706.2 1104.1H1935.4M1706.2 1123.5H1935.4M1706.2 412.2V1123.5M1935.4 412.2V1123.5" fill="none" stroke="#1c1c1c" stroke-opacity="0.7" stroke-width="0.7"/>
<path d="M1761.37 412.2V433.4M1934.39 412.2V433.4M1931.75 433.4V454.7M1934.79 433.4V454.7M1707.82 519.1V540.4M1710.87 519.1V540.4M1933.37 519.1V540.4M1716.34 540.4V561.7M1717.76 540.4V561.7M1707.62 561.7V582.7M1714.72 561.7V582.7M1715.94 561.7V582.7M1728.51 561.7V582.7M1729.73 561.7V582.7M1711.27 582.7V603.7M1716.54 582.7V603.7M1724.05 582.7V603.7M1726.48 582.7V603.7M1727.7 582.7V603.7M1708.63 603.7V624.9M1721.41 603.7V624.9M1727.9 603.7V624.9M1717.36 624.9V645.9M1720.4 624.9V645.9M1723.44 624.9V645.9M1728.51 624.9V645.9M1735 624.9V645.9M1742.1 624.9V645.9M1711.88 645.9V666.9M1717.96 666.9V687.9M1720.4 666.9V687.9M1725.06 666.9V687.9M1709.24 687.9V709M1711.27 687.9V709M1715.94 687.9V709M1728.11 687.9V709M1733.58 687.9V709M1736.22 687.9V709M1737.84 687.9V709M1740.68 687.9V709M1746.77 687.9V709M1747.78 687.9V709M1712.69 709V730.1M1722.83 709V730.1M1725.47 709V730.1M1729.93 709V730.1M1735.61 709V730.1M1707.82 730.1V751.2M1720.4 730.1V751.2M1737.03 730.1V751.2M1738.65 730.1V751.2M1740.68 730.1V751.2M1742.3 730.1V751.2M1746.77 730.1V751.2M1748.39 730.1V751.2M1761.78 730.1V751.2M1712.28 751.2V772.3M1715.33 751.2V772.3M1708.23 814.2V835.3M1707.82 835.3V856.4M1707.82 856.4V877.5M1712.28 856.4V877.5M1712.28 898.6V920.4M1723.04 898.6V920.4M1737.64 898.6V920.4M1710.87 942V963.8M1781.65 942V963.8M1787.33 942V963.8M1791.39 942V963.8M1926.88 942V963.8M1740.28 963.8V985.5M1742.3 963.8V985.5M1921.2 963.8V985.5M1737.03 985.5V1007.3M1916.54 985.5V1007.3M1709.24 1007.3V1026.5M1716.34 1007.3V1026.5M1932.36 1007.3V1026.5M1709.24 1084.6V1104.1M1715.33 1084.6V1104.1M1925.26 1084.6V1104.1M1929.72 1084.6V1104.1M1933.37 1084.6V1104.1M1877.59 1104.1V1123.5M1881.04 1104.1V1123.5M1910.05 1104.1V1123.5" fill="none" stroke="#222" stroke-opacity="0.6" stroke-width="0.6"/>
</g>
<text x="8.5" y="90.6" font-size="52"  textLength="32.8" lengthAdjust="spacingAndGlyphs" fill="#111" xml:space="preserve">A</text>
<text x="1007.6" y="92.5" font-size="51.5"  textLength="32.6" lengthAdjust="spacingAndGlyphs" fill="#111" xml:space="preserve">B</text>
<text x="184.5" y="169.4" font-size="19.5" font-weight="bold" font-style="italic" textLength="193" lengthAdjust="spacingAndGlyphs" stroke="#111" stroke-width="0.35" stroke-linejoin="round" fill="#111" xml:space="preserve">Micropterus punctulatus</text>
<text x="1166.5" y="159.2" font-size="19.5" font-weight="bold" font-style="italic" textLength="156.6" lengthAdjust="spacingAndGlyphs" stroke="#111" stroke-width="0.35" stroke-linejoin="round" fill="#111" xml:space="preserve">Micropterus coosae</text>
<text transform="translate(101.5 295.5) rotate(-90)" font-size="18.4" font-weight="bold" font-style="italic" textLength="127.2" lengthAdjust="spacingAndGlyphs" stroke="#111" stroke-width="0.3" stroke-linejoin="round" fill="#111" xml:space="preserve">Micropterus notius</text>
<text transform="translate(520.9 242) rotate(-90)" font-size="18.4" font-weight="bold" font-style="italic" textLength="154.8" lengthAdjust="spacingAndGlyphs" stroke="#111" stroke-width="0.3" stroke-linejoin="round" fill="#111" xml:space="preserve">Micropterus cataractae</text>
<text transform="translate(1093.9 293.8) rotate(-90)" font-size="18.4" font-weight="bold" font-style="italic" textLength="127.6" lengthAdjust="spacingAndGlyphs" stroke="#111" stroke-width="0.3" stroke-linejoin="round" fill="#111" xml:space="preserve">Micropterus notius</text>
<text transform="translate(1512.9 239.6) rotate(-90)" font-size="18.4" font-weight="bold" font-style="italic" textLength="155" lengthAdjust="spacingAndGlyphs" stroke="#111" stroke-width="0.3" stroke-linejoin="round" fill="#111" xml:space="preserve">Micropterus cataractae</text>
<text x="607.5" y="181.9" font-size="24.5" font-weight="bold" textLength="267.2" lengthAdjust="spacingAndGlyphs" fill="#111" xml:space="preserve">Spotted Bass Complex</text>
<text x="1710.1" y="178.5" font-size="24.6" font-weight="bold" textLength="263.2" lengthAdjust="spacingAndGlyphs" fill="#111" xml:space="preserve">Redeye Bass Complex</text>
<text x="320.2" y="439.8" font-size="22.95"  textLength="301.2" lengthAdjust="spacingAndGlyphs" fill="#111" xml:space="preserve"><tspan font-weight="bold" font-style="italic">Micropterus</tspan><tspan font-weight="bold"> cf. </tspan><tspan font-weight="bold" font-style="italic">punctulatus</tspan></text>
<text x="320.5" y="523.6" font-size="22.95" font-weight="bold" font-style="italic" textLength="237.5" lengthAdjust="spacingAndGlyphs" fill="#111" xml:space="preserve">Micropterus henshalli</text>
<text x="306.6" y="597.9" font-size="17.6"  textLength="110.2" lengthAdjust="spacingAndGlyphs" fill="#111" xml:space="preserve">(Pascagoula R.)</text>
<text x="328.8" y="641.9" font-size="17.6"  textLength="119.5" lengthAdjust="spacingAndGlyphs" fill="#111" xml:space="preserve">(L. Pontchartrain)</text>
<text x="329.5" y="685.2" font-size="17.6"  textLength="65.9" lengthAdjust="spacingAndGlyphs" fill="#111" xml:space="preserve">(Pearl R.)</text>
<text x="342.1" y="717.7" font-size="17.6"  textLength="78" lengthAdjust="spacingAndGlyphs" fill="#111" xml:space="preserve">(Sabine R.)</text>
<text x="342.6" y="744.3" font-size="17.6"  textLength="82.3" lengthAdjust="spacingAndGlyphs" fill="#111" xml:space="preserve">(Neches R.)</text>
<text x="491.1" y="672.1" font-size="20.7" font-weight="bold" font-style="italic" textLength="241.5" lengthAdjust="spacingAndGlyphs" fill="#111" xml:space="preserve">Micropterus punctulatus</text>
<text x="460.9" y="830.6" font-size="22.95" font-weight="bold" font-style="italic" textLength="213.1" lengthAdjust="spacingAndGlyphs" fill="#111" xml:space="preserve">Micropterus treculii</text>
<text x="388.9" y="1008.1" font-size="22.95" font-weight="bold" font-style="italic" textLength="267.5" lengthAdjust="spacingAndGlyphs" fill="#111" xml:space="preserve">Micropterus punctulatus</text>
<text x="386.1" y="1040.8" font-size="18.83"  textLength="180" lengthAdjust="spacingAndGlyphs" fill="#111" xml:space="preserve">(Mississippi R. Basin)</text>
<text x="119.5" y="1074.1" font-size="23.8"  textLength="59.3" lengthAdjust="spacingAndGlyphs" fill="#111" xml:space="preserve">0.001</text>
<text x="1136" y="1075" font-size="23.8"  textLength="59.3" lengthAdjust="spacingAndGlyphs" fill="#111" xml:space="preserve">0.001</text>
<text x="1338.1" y="478.3" font-size="22.95" font-weight="bold" font-style="italic" textLength="274" lengthAdjust="spacingAndGlyphs" fill="#111" xml:space="preserve">Micropterus warriorensis</text>
<text x="1322.9" y="587.3" font-size="22.95" font-weight="bold" font-style="italic" textLength="263.9" lengthAdjust="spacingAndGlyphs" fill="#111" xml:space="preserve">Micropterus tallapoosae</text>
<text x="1331.4" y="685.9" font-size="22.95" font-weight="bold" font-style="italic" textLength="229.5" lengthAdjust="spacingAndGlyphs" fill="#111" xml:space="preserve">Micropterus cahabae</text>
<text x="1342.7" y="824.6" font-size="22.95" font-weight="bold" font-style="italic" textLength="217.6" lengthAdjust="spacingAndGlyphs" fill="#111" xml:space="preserve">Micropterus coosae</text>
<text x="1355.8" y="955.5" font-size="22.95" font-weight="bold" font-style="italic" textLength="300.4" lengthAdjust="spacingAndGlyphs" fill="#111" xml:space="preserve">Micropterus chattahoochae</text>
<text x="1373.4" y="1019.4" font-size="18.8"  textLength="224.3" lengthAdjust="spacingAndGlyphs" fill="#111" xml:space="preserve"><tspan font-weight="bold" font-style="italic">Micropterus</tspan><tspan font-weight="bold"> cf. </tspan><tspan font-weight="bold" font-style="italic">coosae</tspan></text>
<text x="1373.4" y="1043.9" font-size="18.9" font-weight="bold" textLength="94" lengthAdjust="spacingAndGlyphs" fill="#111" xml:space="preserve">Bartram’s</text>
<text x="1365.2" y="1088.4" font-size="18.8"  textLength="224.3" lengthAdjust="spacingAndGlyphs" fill="#111" xml:space="preserve"><tspan font-weight="bold" font-style="italic">Micropterus</tspan><tspan font-weight="bold"> cf. </tspan><tspan font-weight="bold" font-style="italic">coosae</tspan></text>
<text x="1364.6" y="1113.2" font-size="18.9" font-weight="bold" textLength="91.7" lengthAdjust="spacingAndGlyphs" fill="#111" xml:space="preserve">Altamaha</text>
<text x="746.6" y="1202" font-size="17.3"  textLength="9" lengthAdjust="spacingAndGlyphs" fill="#111" xml:space="preserve">0</text>
<text x="949.6" y="1204" font-size="17.8"  fill="#111" xml:space="preserve">1</text>
<text x="757.2" y="1216.8" font-size="21"  textLength="193.6" lengthAdjust="spacingAndGlyphs" fill="#111" xml:space="preserve">Admixture Coefficient</text>
<text x="1705.9" y="1175.5" font-size="20.5"  textLength="9.9" lengthAdjust="spacingAndGlyphs" fill="#111" xml:space="preserve">0</text>
<text x="1928.4" y="1177" font-size="20.5"  fill="#111" xml:space="preserve">1</text>
<text x="1726.9" y="1184.9" font-size="20.6"  textLength="194.3" lengthAdjust="spacingAndGlyphs" fill="#111" xml:space="preserve">Admixture Coefficient</text>
</svg></body></html>
